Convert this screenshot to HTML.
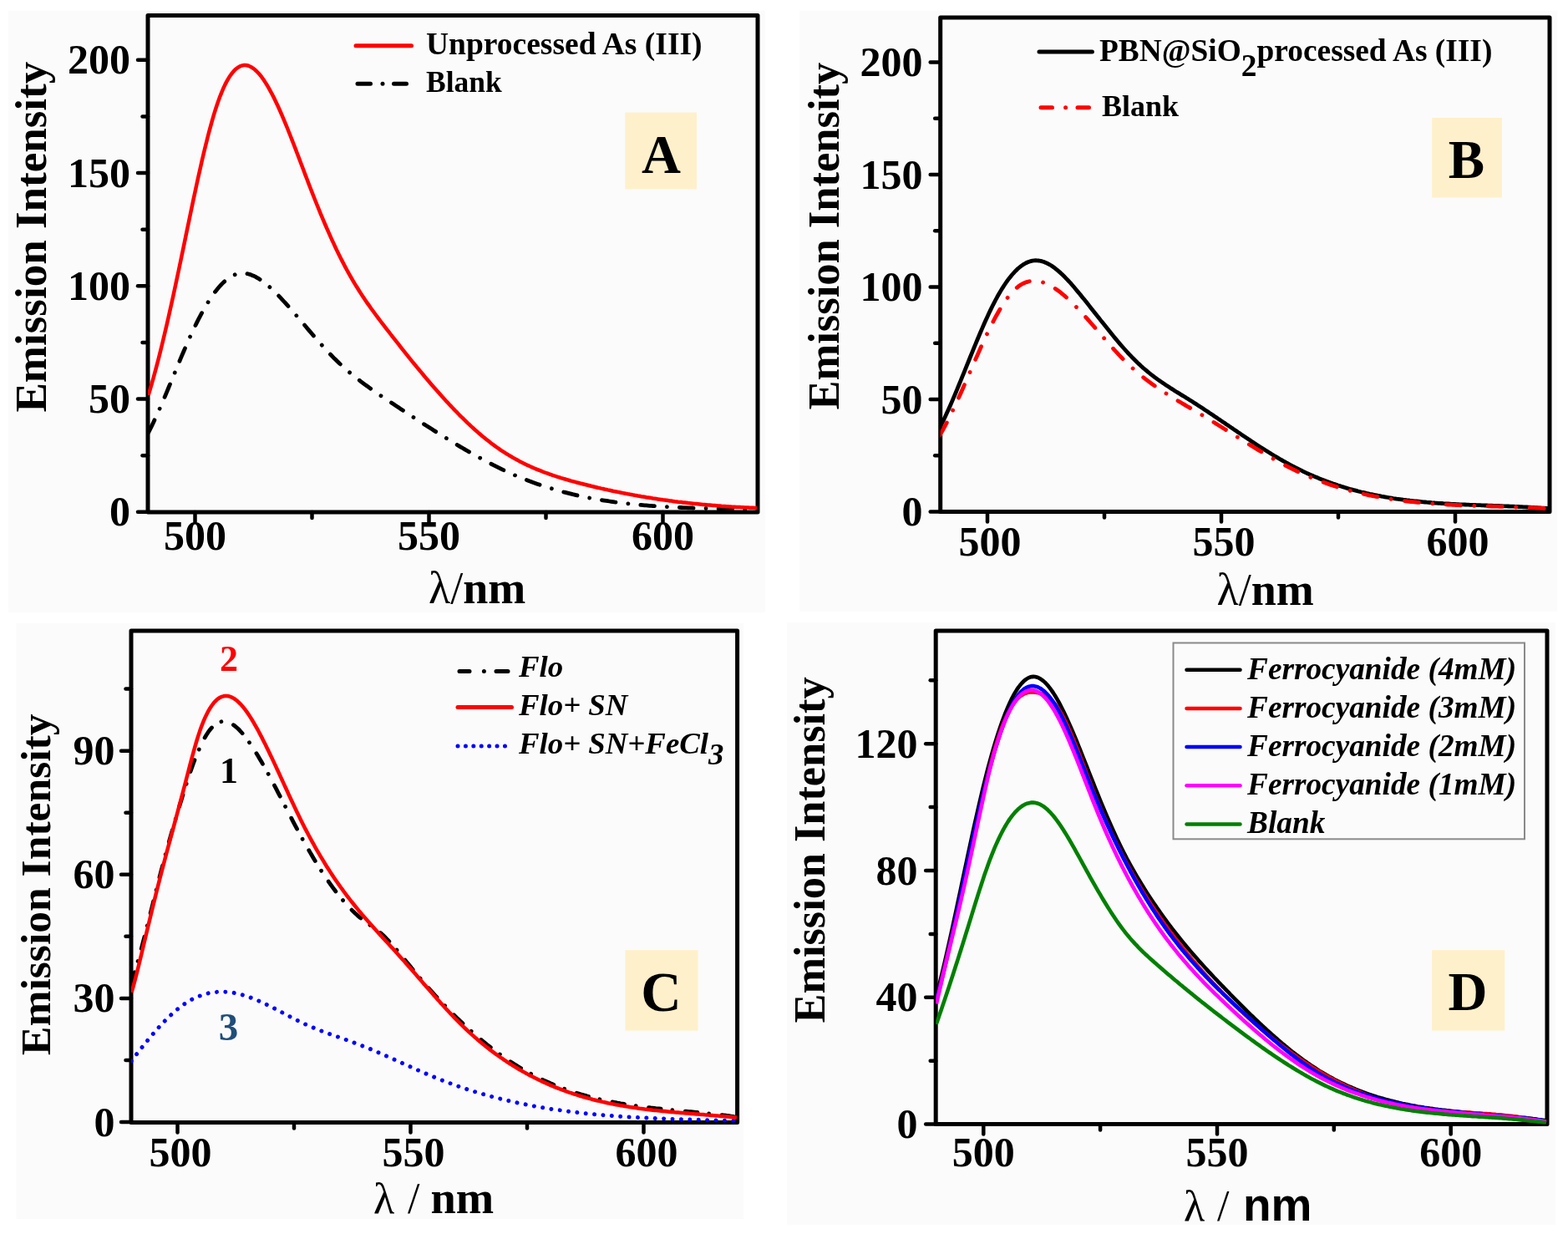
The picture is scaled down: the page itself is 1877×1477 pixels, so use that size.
<!DOCTYPE html>
<html><head><meta charset="utf-8"><title>Emission spectra</title>
<style>html,body{margin:0;padding:0;background:#fff;}svg{display:block;}</style>
</head><body>
<svg width="1877" height="1477" viewBox="0 0 1877 1477">
<rect x="0" y="0" width="1877" height="1477" fill="#fff"/>
<rect x="10.0" y="13.0" width="906.0" height="720.0" fill="#fbfbfb"/>
<rect x="957.0" y="13.0" width="907.0" height="719.0" fill="#fbfbfb"/>
<rect x="19.5" y="746.0" width="870.5" height="713.0" fill="#fbfbfb"/>
<rect x="942.0" y="745.0" width="920.0" height="721.0" fill="#fbfbfb"/>
<clipPath id="ca"><rect x="177.0" y="18.5" width="730.0" height="594.5"/></clipPath>
<clipPath id="cb"><rect x="1125.7" y="21.0" width="729.3" height="591.5"/></clipPath>
<clipPath id="cc"><rect x="157.0" y="755.0" width="725.6" height="588.5"/></clipPath>
<clipPath id="cd"><rect x="1120.2" y="755.0" width="731.8" height="590.6"/></clipPath>
<g stroke="#000" stroke-width="4.5" stroke-linecap="round"><line x1="233.5" y1="613.0" x2="233.5" y2="625.0"/><line x1="373.5" y1="613.0" x2="373.5" y2="620.0"/><line x1="513.5" y1="613.0" x2="513.5" y2="625.0"/><line x1="653.5" y1="613.0" x2="653.5" y2="620.0"/><line x1="793.5" y1="613.0" x2="793.5" y2="625.0"/><line x1="165.0" y1="612.8" x2="177.0" y2="612.8"/><line x1="165.0" y1="477.5" x2="177.0" y2="477.5"/><line x1="165.0" y1="342.3" x2="177.0" y2="342.3"/><line x1="165.0" y1="207.0" x2="177.0" y2="207.0"/><line x1="165.0" y1="71.8" x2="177.0" y2="71.8"/><line x1="170.5" y1="545.2" x2="177.0" y2="545.2"/><line x1="170.5" y1="409.9" x2="177.0" y2="409.9"/><line x1="170.5" y1="274.7" x2="177.0" y2="274.7"/><line x1="170.5" y1="139.4" x2="177.0" y2="139.4"/></g>
<g font-family="'Liberation Serif','Times New Roman',serif" font-weight="bold" font-size="50" fill="#000"><text x="233.5" y="658.3" text-anchor="middle">500</text><text x="513.5" y="658.3" text-anchor="middle">550</text><text x="793.5" y="658.3" text-anchor="middle">600</text><text x="156.0" y="629.3" text-anchor="end">0</text><text x="156.0" y="494.0" text-anchor="end">50</text><text x="156.0" y="358.8" text-anchor="end">100</text><text x="156.0" y="223.5" text-anchor="end">150</text><text x="156.0" y="88.3" text-anchor="end">200</text></g>
<rect x="177.0" y="18.5" width="730.0" height="594.5" fill="none" stroke="#000" stroke-width="5" stroke-linejoin="round"/>
<path d="M177.6 517.8 L179.6 513.9 L181.6 509.9 L183.6 505.7 L185.6 501.4 L187.6 497.1 L189.6 492.6 L191.6 488.1 L193.6 483.5 L195.6 478.8 L197.6 474.1 L199.6 469.3 L201.6 464.5 L203.6 459.7 L205.6 454.9 L207.6 450.0 L209.6 445.2 L211.6 440.3 L213.6 435.5 L215.6 430.7 L217.6 425.9 L219.6 421.2 L221.6 416.6 L223.6 411.9 L225.6 407.4 L227.6 403.0 L229.6 398.6 L231.6 394.3 L233.6 390.2 L235.6 386.1 L237.6 382.1 L239.6 378.3 L241.6 374.6 L243.6 371.0 L245.6 367.5 L247.6 364.1 L249.6 360.9 L251.6 357.8 L253.6 354.8 L255.6 351.9 L257.6 349.2 L259.6 346.7 L261.6 344.3 L263.6 342.0 L265.6 339.9 L267.6 337.9 L269.6 336.1 L271.6 334.4 L273.6 332.9 L275.6 331.6 L277.6 330.4 L279.6 329.4 L281.6 328.6 L283.6 328.0 L285.6 327.5 L287.6 327.2 L289.6 327.1 L291.6 327.1 L293.6 327.3 L295.6 327.6 L297.6 328.0 L299.6 328.6 L301.6 329.4 L303.6 330.2 L305.6 331.2 L307.6 332.3 L309.6 333.4 L311.6 334.7 L313.6 336.1 L315.6 337.6 L317.6 339.2 L319.6 340.8 L321.6 342.5 L323.6 344.3 L325.6 346.2 L327.6 348.1 L329.6 350.1 L331.6 352.1 L333.6 354.1 L335.6 356.2 L337.6 358.3 L339.6 360.5 L341.6 362.7 L343.6 364.9 L345.6 367.1 L347.6 369.4 L349.6 371.6 L351.6 373.9 L353.6 376.3 L355.6 378.6 L357.6 380.9 L359.6 383.3 L361.6 385.6 L363.6 388.0 L365.6 390.3 L367.6 392.7 L369.6 395.1 L371.6 397.4 L373.6 399.7 L375.6 402.1 L377.6 404.4 L379.6 406.7 L381.6 409.0 L383.6 411.2 L385.6 413.5 L387.6 415.7 L389.6 417.9 L391.6 420.1 L393.6 422.2 L395.6 424.3 L397.6 426.3 L399.6 428.4 L401.6 430.3 L403.6 432.3 L405.6 434.2 L407.6 436.1 L409.6 437.9 L411.6 439.7 L413.6 441.5 L415.6 443.3 L417.6 445.0 L419.6 446.7 L421.6 448.3 L423.6 450.0 L425.6 451.6 L427.6 453.2 L429.6 454.7 L431.6 456.3 L433.6 457.8 L435.6 459.3 L437.6 460.8 L439.6 462.2 L441.6 463.7 L443.6 465.1 L445.6 466.5 L447.6 468.0 L449.6 469.3 L451.6 470.7 L453.6 472.1 L455.6 473.5 L457.6 474.8 L459.6 476.1 L461.6 477.5 L463.6 478.8 L465.6 480.1 L467.6 481.5 L469.6 482.8 L471.6 484.1 L473.6 485.4 L475.6 486.8 L477.6 488.1 L479.6 489.4 L481.6 490.7 L483.6 492.0 L485.6 493.3 L487.6 494.6 L489.6 496.0 L491.6 497.3 L493.6 498.6 L495.6 499.9 L497.6 501.2 L499.6 502.5 L501.6 503.8 L503.6 505.1 L505.6 506.4 L507.6 507.7 L509.6 509.0 L511.6 510.2 L513.6 511.5 L515.6 512.8 L517.6 514.1 L519.6 515.4 L521.6 516.6 L523.6 517.9 L525.6 519.2 L527.6 520.4 L529.6 521.7 L531.6 522.9 L533.6 524.1 L535.6 525.4 L537.6 526.6 L539.6 527.8 L541.6 529.1 L543.6 530.3 L545.6 531.5 L547.6 532.7 L549.6 533.9 L551.6 535.1 L553.6 536.2 L555.6 537.4 L557.6 538.6 L559.6 539.7 L561.6 540.9 L563.6 542.0 L565.6 543.2 L567.6 544.3 L569.6 545.4 L571.6 546.5 L573.6 547.6 L575.6 548.7 L577.6 549.8 L579.6 550.9 L581.6 552.0 L583.6 553.0 L585.6 554.1 L587.6 555.1 L589.6 556.1 L591.6 557.1 L593.6 558.1 L595.6 559.1 L597.6 560.1 L599.6 561.1 L601.6 562.1 L603.6 563.0 L605.6 564.0 L607.6 564.9 L609.6 565.8 L611.6 566.7 L613.6 567.6 L615.6 568.5 L617.6 569.3 L619.6 570.2 L621.6 571.0 L623.6 571.9 L625.6 572.7 L627.6 573.5 L629.6 574.3 L631.6 575.0 L633.6 575.8 L635.6 576.5 L637.6 577.3 L639.6 578.0 L641.6 578.7 L643.6 579.4 L645.6 580.1 L647.6 580.8 L649.6 581.5 L651.6 582.1 L653.6 582.8 L655.6 583.4 L657.6 584.0 L659.6 584.6 L661.6 585.2 L663.6 585.8 L665.6 586.4 L667.6 587.0 L669.6 587.6 L671.6 588.1 L673.6 588.6 L675.6 589.2 L677.6 589.7 L679.6 590.2 L681.6 590.7 L683.6 591.2 L685.6 591.7 L687.6 592.1 L689.6 592.6 L691.6 593.1 L693.6 593.5 L695.6 593.9 L697.6 594.4 L699.6 594.8 L701.6 595.2 L703.6 595.6 L705.6 596.0 L707.6 596.3 L709.6 596.7 L711.6 597.1 L713.6 597.4 L715.6 597.8 L717.6 598.1 L719.6 598.5 L721.6 598.8 L723.6 599.1 L725.6 599.4 L727.6 599.7 L729.6 600.0 L731.6 600.3 L733.6 600.6 L735.6 600.9 L737.6 601.1 L739.6 601.4 L741.6 601.7 L743.6 601.9 L745.6 602.2 L747.6 602.4 L749.6 602.6 L751.6 602.8 L753.6 603.1 L755.6 603.3 L757.6 603.5 L759.6 603.7 L761.6 603.9 L763.6 604.1 L765.6 604.3 L767.6 604.4 L769.6 604.6 L771.6 604.8 L773.6 604.9 L775.6 605.1 L777.6 605.3 L779.6 605.4 L781.6 605.6 L783.6 605.7 L785.6 605.8 L787.6 606.0 L789.6 606.1 L791.6 606.2 L793.6 606.3 L795.6 606.5 L797.6 606.6 L799.6 606.7 L801.6 606.8 L803.6 606.9 L805.6 607.0 L807.6 607.1 L809.6 607.2 L811.6 607.3 L813.6 607.4 L815.6 607.5 L817.6 607.6 L819.6 607.6 L821.6 607.7 L823.6 607.8 L825.6 607.9 L827.6 607.9 L829.6 608.0 L831.6 608.1 L833.6 608.2 L835.6 608.2 L837.6 608.3 L839.6 608.4 L841.6 608.4 L843.6 608.5 L845.6 608.5 L847.6 608.6 L849.6 608.7 L851.6 608.7 L853.6 608.8 L855.6 608.8 L857.6 608.9 L859.6 608.9 L861.6 609.0 L863.6 609.1 L865.6 609.1 L867.6 609.2 L869.6 609.2 L871.6 609.3 L873.6 609.3 L875.6 609.4 L877.6 609.5 L879.6 609.5 L881.6 609.6 L883.6 609.6 L885.6 609.7 L887.6 609.8 L889.6 609.8 L891.6 609.9 L893.6 610.0 L895.6 610.0 L897.6 610.1 L899.6 610.2 L901.6 610.3 L903.6 610.3 L905.6 610.4 L906.0 610.4" fill="none" stroke="#000" stroke-width="4.8" stroke-linejoin="round" stroke-linecap="round" stroke-dasharray="16.7 15 0.01 15" clip-path="url(#ca)"/>
<path d="M177.6 472.9 L179.6 466.3 L181.6 459.5 L183.6 452.5 L185.6 445.2 L187.6 437.7 L189.6 430.0 L191.6 422.1 L193.6 414.0 L195.6 405.8 L197.6 397.3 L199.6 388.7 L201.6 380.0 L203.6 371.1 L205.6 362.0 L207.6 352.9 L209.6 343.6 L211.6 334.3 L213.6 324.9 L215.6 315.4 L217.6 305.8 L219.6 296.2 L221.6 286.5 L223.6 276.8 L225.6 267.2 L227.6 257.6 L229.6 248.0 L231.6 238.5 L233.6 229.2 L235.6 219.9 L237.6 210.8 L239.6 201.9 L241.6 193.1 L243.6 184.6 L245.6 176.2 L247.6 168.2 L249.6 160.3 L251.6 152.8 L253.6 145.6 L255.6 138.7 L257.6 132.2 L259.6 126.0 L261.6 120.2 L263.6 114.8 L265.6 109.8 L267.6 105.2 L269.6 100.9 L271.6 97.1 L273.6 93.6 L275.6 90.5 L277.6 87.8 L279.6 85.4 L281.6 83.3 L283.6 81.6 L285.6 80.3 L287.6 79.2 L289.6 78.5 L291.6 78.1 L293.6 78.1 L295.6 78.3 L297.6 78.8 L299.6 79.7 L301.6 80.8 L303.6 82.1 L305.6 83.8 L307.6 85.7 L309.6 87.8 L311.6 90.1 L313.6 92.7 L315.6 95.5 L317.6 98.6 L319.6 101.8 L321.6 105.2 L323.6 108.8 L325.6 112.5 L327.6 116.4 L329.6 120.5 L331.6 124.7 L333.6 129.0 L335.6 133.5 L337.6 138.1 L339.6 142.8 L341.6 147.6 L343.6 152.5 L345.6 157.5 L347.6 162.5 L349.6 167.6 L351.6 172.7 L353.6 177.9 L355.6 183.2 L357.6 188.4 L359.6 193.7 L361.6 199.0 L363.6 204.3 L365.6 209.6 L367.6 214.8 L369.6 220.1 L371.6 225.3 L373.6 230.4 L375.6 235.5 L377.6 240.5 L379.6 245.5 L381.6 250.4 L383.6 255.3 L385.6 260.1 L387.6 264.9 L389.6 269.5 L391.6 274.2 L393.6 278.7 L395.6 283.2 L397.6 287.6 L399.6 291.9 L401.6 296.2 L403.6 300.4 L405.6 304.5 L407.6 308.5 L409.6 312.4 L411.6 316.3 L413.6 320.1 L415.6 323.8 L417.6 327.4 L419.6 330.9 L421.6 334.4 L423.6 337.8 L425.6 341.1 L427.6 344.3 L429.6 347.5 L431.6 350.6 L433.6 353.7 L435.6 356.7 L437.6 359.7 L439.6 362.6 L441.6 365.4 L443.6 368.3 L445.6 371.0 L447.6 373.8 L449.6 376.5 L451.6 379.2 L453.6 381.9 L455.6 384.5 L457.6 387.1 L459.6 389.7 L461.6 392.3 L463.6 394.9 L465.6 397.4 L467.6 400.0 L469.6 402.6 L471.6 405.1 L473.6 407.7 L475.6 410.2 L477.6 412.7 L479.6 415.3 L481.6 417.8 L483.6 420.3 L485.6 422.8 L487.6 425.3 L489.6 427.8 L491.6 430.3 L493.6 432.8 L495.6 435.2 L497.6 437.7 L499.6 440.1 L501.6 442.5 L503.6 444.9 L505.6 447.3 L507.6 449.7 L509.6 452.1 L511.6 454.5 L513.6 456.8 L515.6 459.2 L517.6 461.5 L519.6 463.8 L521.6 466.1 L523.6 468.3 L525.6 470.6 L527.6 472.8 L529.6 475.1 L531.6 477.3 L533.6 479.5 L535.6 481.6 L537.6 483.8 L539.6 485.9 L541.6 488.0 L543.6 490.1 L545.6 492.2 L547.6 494.2 L549.6 496.3 L551.6 498.3 L553.6 500.2 L555.6 502.2 L557.6 504.1 L559.6 506.1 L561.6 507.9 L563.6 509.8 L565.6 511.6 L567.6 513.5 L569.6 515.3 L571.6 517.0 L573.6 518.8 L575.6 520.5 L577.6 522.2 L579.6 523.8 L581.6 525.4 L583.6 527.0 L585.6 528.6 L587.6 530.2 L589.6 531.7 L591.6 533.1 L593.6 534.6 L595.6 536.0 L597.6 537.4 L599.6 538.8 L601.6 540.1 L603.6 541.4 L605.6 542.7 L607.6 543.9 L609.6 545.1 L611.6 546.3 L613.6 547.5 L615.6 548.6 L617.6 549.7 L619.6 550.8 L621.6 551.9 L623.6 552.9 L625.6 553.9 L627.6 554.9 L629.6 555.9 L631.6 556.9 L633.6 557.8 L635.6 558.7 L637.6 559.6 L639.6 560.5 L641.6 561.3 L643.6 562.1 L645.6 562.9 L647.6 563.7 L649.6 564.5 L651.6 565.3 L653.6 566.0 L655.6 566.7 L657.6 567.5 L659.6 568.1 L661.6 568.8 L663.6 569.5 L665.6 570.2 L667.6 570.8 L669.6 571.4 L671.6 572.1 L673.6 572.7 L675.6 573.3 L677.6 573.8 L679.6 574.4 L681.6 575.0 L683.6 575.6 L685.6 576.1 L687.6 576.6 L689.6 577.2 L691.6 577.7 L693.6 578.2 L695.6 578.8 L697.6 579.3 L699.6 579.8 L701.6 580.3 L703.6 580.8 L705.6 581.3 L707.6 581.8 L709.6 582.2 L711.6 582.7 L713.6 583.2 L715.6 583.7 L717.6 584.1 L719.6 584.6 L721.6 585.0 L723.6 585.5 L725.6 585.9 L727.6 586.4 L729.6 586.8 L731.6 587.2 L733.6 587.7 L735.6 588.1 L737.6 588.5 L739.6 588.9 L741.6 589.3 L743.6 589.7 L745.6 590.1 L747.6 590.5 L749.6 590.9 L751.6 591.3 L753.6 591.6 L755.6 592.0 L757.6 592.4 L759.6 592.8 L761.6 593.1 L763.6 593.5 L765.6 593.8 L767.6 594.2 L769.6 594.5 L771.6 594.8 L773.6 595.2 L775.6 595.5 L777.6 595.8 L779.6 596.1 L781.6 596.5 L783.6 596.8 L785.6 597.1 L787.6 597.4 L789.6 597.7 L791.6 598.0 L793.6 598.3 L795.6 598.5 L797.6 598.8 L799.6 599.1 L801.6 599.4 L803.6 599.6 L805.6 599.9 L807.6 600.2 L809.6 600.4 L811.6 600.7 L813.6 600.9 L815.6 601.1 L817.6 601.4 L819.6 601.6 L821.6 601.8 L823.6 602.1 L825.6 602.3 L827.6 602.5 L829.6 602.7 L831.6 602.9 L833.6 603.1 L835.6 603.3 L837.6 603.5 L839.6 603.7 L841.6 603.9 L843.6 604.1 L845.6 604.3 L847.6 604.5 L849.6 604.6 L851.6 604.8 L853.6 605.0 L855.6 605.1 L857.6 605.3 L859.6 605.5 L861.6 605.6 L863.6 605.8 L865.6 605.9 L867.6 606.0 L869.6 606.2 L871.6 606.3 L873.6 606.4 L875.6 606.6 L877.6 606.7 L879.6 606.8 L881.6 606.9 L883.6 607.0 L885.6 607.1 L887.6 607.2 L889.6 607.3 L891.6 607.4 L893.6 607.5 L895.6 607.6 L897.6 607.7 L899.6 607.8 L901.6 607.8 L903.6 607.9 L905.6 608.0 L906.0 608.0" fill="none" stroke="#ff0000" stroke-width="4.5" stroke-linejoin="round" stroke-linecap="butt" clip-path="url(#ca)"/>
<g stroke="#000" stroke-width="4.5" stroke-linecap="round"><line x1="1182.0" y1="612.5" x2="1182.0" y2="624.5"/><line x1="1322.0" y1="612.5" x2="1322.0" y2="619.5"/><line x1="1462.0" y1="612.5" x2="1462.0" y2="624.5"/><line x1="1602.0" y1="612.5" x2="1602.0" y2="619.5"/><line x1="1742.0" y1="612.5" x2="1742.0" y2="624.5"/><line x1="1113.7" y1="612.5" x2="1125.7" y2="612.5"/><line x1="1113.7" y1="478.0" x2="1125.7" y2="478.0"/><line x1="1113.7" y1="343.5" x2="1125.7" y2="343.5"/><line x1="1113.7" y1="209.0" x2="1125.7" y2="209.0"/><line x1="1113.7" y1="74.5" x2="1125.7" y2="74.5"/><line x1="1119.2" y1="545.2" x2="1125.7" y2="545.2"/><line x1="1119.2" y1="410.8" x2="1125.7" y2="410.8"/><line x1="1119.2" y1="276.2" x2="1125.7" y2="276.2"/><line x1="1119.2" y1="141.8" x2="1125.7" y2="141.8"/></g>
<g font-family="'Liberation Serif','Times New Roman',serif" font-weight="bold" font-size="50" fill="#000"><text x="1185.0" y="665.0" text-anchor="middle">500</text><text x="1465.0" y="665.0" text-anchor="middle">550</text><text x="1745.0" y="665.0" text-anchor="middle">600</text><text x="1104.5" y="629.0" text-anchor="end">0</text><text x="1104.5" y="494.5" text-anchor="end">50</text><text x="1104.5" y="360.0" text-anchor="end">100</text><text x="1104.5" y="225.5" text-anchor="end">150</text><text x="1104.5" y="91.0" text-anchor="end">200</text></g>
<rect x="1125.7" y="21.0" width="729.3" height="591.5" fill="none" stroke="#000" stroke-width="5" stroke-linejoin="round"/>
<path d="M1125.8 510.3 L1127.8 506.3 L1129.8 502.2 L1131.8 498.0 L1133.8 493.6 L1135.8 489.2 L1137.8 484.7 L1139.8 480.1 L1141.8 475.4 L1143.8 470.7 L1145.8 465.9 L1147.8 461.0 L1149.8 456.2 L1151.8 451.2 L1153.8 446.3 L1155.8 441.4 L1157.8 436.4 L1159.8 431.5 L1161.8 426.5 L1163.8 421.6 L1165.8 416.7 L1167.8 411.8 L1169.8 407.0 L1171.8 402.3 L1173.8 397.5 L1175.8 392.9 L1177.8 388.3 L1179.8 383.8 L1181.8 379.4 L1183.8 375.1 L1185.8 370.9 L1187.8 366.8 L1189.8 362.9 L1191.8 359.0 L1193.8 355.3 L1195.8 351.8 L1197.8 348.4 L1199.8 345.1 L1201.8 342.0 L1203.8 339.0 L1205.8 336.1 L1207.8 333.4 L1209.8 330.9 L1211.8 328.5 L1213.8 326.3 L1215.8 324.2 L1217.8 322.2 L1219.8 320.5 L1221.8 318.9 L1223.8 317.4 L1225.8 316.1 L1227.8 315.0 L1229.8 314.0 L1231.8 313.2 L1233.8 312.6 L1235.8 312.1 L1237.8 311.9 L1239.8 311.7 L1241.8 311.8 L1243.8 312.0 L1245.8 312.4 L1247.8 312.9 L1249.8 313.6 L1251.8 314.4 L1253.8 315.3 L1255.8 316.4 L1257.8 317.5 L1259.8 318.8 L1261.8 320.2 L1263.8 321.8 L1265.8 323.4 L1267.8 325.1 L1269.8 326.9 L1271.8 328.8 L1273.8 330.7 L1275.8 332.8 L1277.8 334.9 L1279.8 337.0 L1281.8 339.2 L1283.8 341.5 L1285.8 343.8 L1287.8 346.2 L1289.8 348.6 L1291.8 351.0 L1293.8 353.4 L1295.8 355.9 L1297.8 358.3 L1299.8 360.8 L1301.8 363.3 L1303.8 365.9 L1305.8 368.4 L1307.8 370.9 L1309.8 373.4 L1311.8 376.0 L1313.8 378.5 L1315.8 381.0 L1317.8 383.6 L1319.8 386.1 L1321.8 388.6 L1323.8 391.1 L1325.8 393.6 L1327.8 396.1 L1329.8 398.6 L1331.8 401.0 L1333.8 403.5 L1335.8 405.9 L1337.8 408.3 L1339.8 410.6 L1341.8 413.0 L1343.8 415.3 L1345.8 417.5 L1347.8 419.8 L1349.8 422.0 L1351.8 424.1 L1353.8 426.2 L1355.8 428.3 L1357.8 430.3 L1359.8 432.3 L1361.8 434.3 L1363.8 436.1 L1365.8 438.0 L1367.8 439.8 L1369.8 441.5 L1371.8 443.2 L1373.8 444.9 L1375.8 446.5 L1377.8 448.1 L1379.8 449.6 L1381.8 451.2 L1383.8 452.6 L1385.8 454.1 L1387.8 455.5 L1389.8 456.9 L1391.8 458.3 L1393.8 459.6 L1395.8 461.0 L1397.8 462.3 L1399.8 463.6 L1401.8 464.9 L1403.8 466.1 L1405.8 467.4 L1407.8 468.7 L1409.8 469.9 L1411.8 471.1 L1413.8 472.4 L1415.8 473.6 L1417.8 474.8 L1419.8 476.1 L1421.8 477.3 L1423.8 478.6 L1425.8 479.8 L1427.8 481.1 L1429.8 482.4 L1431.8 483.6 L1433.8 484.9 L1435.8 486.2 L1437.8 487.5 L1439.8 488.8 L1441.8 490.2 L1443.8 491.5 L1445.8 492.8 L1447.8 494.2 L1449.8 495.5 L1451.8 496.8 L1453.8 498.2 L1455.8 499.5 L1457.8 500.9 L1459.8 502.2 L1461.8 503.6 L1463.8 505.0 L1465.8 506.3 L1467.8 507.7 L1469.8 509.0 L1471.8 510.4 L1473.8 511.8 L1475.8 513.1 L1477.8 514.5 L1479.8 515.8 L1481.8 517.2 L1483.8 518.5 L1485.8 519.9 L1487.8 521.2 L1489.8 522.6 L1491.8 523.9 L1493.8 525.3 L1495.8 526.6 L1497.8 527.9 L1499.8 529.2 L1501.8 530.6 L1503.8 531.9 L1505.8 533.2 L1507.8 534.5 L1509.8 535.7 L1511.8 537.0 L1513.8 538.3 L1515.8 539.5 L1517.8 540.8 L1519.8 542.0 L1521.8 543.3 L1523.8 544.5 L1525.8 545.7 L1527.8 546.9 L1529.8 548.1 L1531.8 549.3 L1533.8 550.4 L1535.8 551.6 L1537.8 552.7 L1539.8 553.8 L1541.8 554.9 L1543.8 556.0 L1545.8 557.1 L1547.8 558.1 L1549.8 559.2 L1551.8 560.2 L1553.8 561.2 L1555.8 562.2 L1557.8 563.2 L1559.8 564.2 L1561.8 565.1 L1563.8 566.1 L1565.8 567.0 L1567.8 567.9 L1569.8 568.8 L1571.8 569.6 L1573.8 570.5 L1575.8 571.3 L1577.8 572.1 L1579.8 573.0 L1581.8 573.8 L1583.8 574.5 L1585.8 575.3 L1587.8 576.1 L1589.8 576.8 L1591.8 577.5 L1593.8 578.2 L1595.8 579.0 L1597.8 579.6 L1599.8 580.3 L1601.8 581.0 L1603.8 581.6 L1605.8 582.3 L1607.8 582.9 L1609.8 583.5 L1611.8 584.1 L1613.8 584.7 L1615.8 585.3 L1617.8 585.8 L1619.8 586.4 L1621.8 586.9 L1623.8 587.4 L1625.8 588.0 L1627.8 588.5 L1629.8 589.0 L1631.8 589.4 L1633.8 589.9 L1635.8 590.4 L1637.8 590.8 L1639.8 591.3 L1641.8 591.7 L1643.8 592.1 L1645.8 592.5 L1647.8 592.9 L1649.8 593.3 L1651.8 593.7 L1653.8 594.1 L1655.8 594.4 L1657.8 594.8 L1659.8 595.2 L1661.8 595.5 L1663.8 595.8 L1665.8 596.1 L1667.8 596.5 L1669.8 596.8 L1671.8 597.1 L1673.8 597.3 L1675.8 597.6 L1677.8 597.9 L1679.8 598.2 L1681.8 598.4 L1683.8 598.7 L1685.8 598.9 L1687.8 599.2 L1689.8 599.4 L1691.8 599.6 L1693.8 599.8 L1695.8 600.0 L1697.8 600.2 L1699.8 600.4 L1701.8 600.6 L1703.8 600.8 L1705.8 601.0 L1707.8 601.2 L1709.8 601.3 L1711.8 601.5 L1713.8 601.7 L1715.8 601.8 L1717.8 602.0 L1719.8 602.1 L1721.8 602.3 L1723.8 602.4 L1725.8 602.5 L1727.8 602.7 L1729.8 602.8 L1731.8 602.9 L1733.8 603.0 L1735.8 603.1 L1737.8 603.3 L1739.8 603.4 L1741.8 603.5 L1743.8 603.6 L1745.8 603.7 L1747.8 603.8 L1749.8 603.8 L1751.8 603.9 L1753.8 604.0 L1755.8 604.1 L1757.8 604.2 L1759.8 604.3 L1761.8 604.4 L1763.8 604.4 L1765.8 604.5 L1767.8 604.6 L1769.8 604.7 L1771.8 604.7 L1773.8 604.8 L1775.8 604.9 L1777.8 605.0 L1779.8 605.0 L1781.8 605.1 L1783.8 605.2 L1785.8 605.2 L1787.8 605.3 L1789.8 605.4 L1791.8 605.5 L1793.8 605.5 L1795.8 605.6 L1797.8 605.7 L1799.8 605.8 L1801.8 605.8 L1803.8 605.9 L1805.8 606.0 L1807.8 606.1 L1809.8 606.2 L1811.8 606.2 L1813.8 606.3 L1815.8 606.4 L1817.8 606.5 L1819.8 606.6 L1821.8 606.7 L1823.8 606.8 L1825.8 606.9 L1827.8 607.0 L1829.8 607.1 L1831.8 607.2 L1833.8 607.3 L1835.8 607.4 L1837.8 607.6 L1839.8 607.7 L1841.8 607.8 L1843.8 607.9 L1845.8 608.1 L1847.8 608.2 L1849.8 608.4 L1851.8 608.5 L1853.8 608.7 L1854.0 608.7" fill="none" stroke="#000" stroke-width="4.8" stroke-linejoin="round" stroke-linecap="butt" clip-path="url(#cb)"/>
<path d="M1125.1 520.8 L1127.1 517.4 L1129.1 513.8 L1131.1 510.1 L1133.1 506.3 L1135.1 502.4 L1137.1 498.4 L1139.1 494.3 L1141.1 490.1 L1143.1 485.9 L1145.1 481.5 L1147.1 477.2 L1149.1 472.7 L1151.1 468.2 L1153.1 463.7 L1155.1 459.2 L1157.1 454.6 L1159.1 450.0 L1161.1 445.4 L1163.1 440.8 L1165.1 436.2 L1167.1 431.6 L1169.1 427.1 L1171.1 422.6 L1173.1 418.1 L1175.1 413.6 L1177.1 409.3 L1179.1 404.9 L1181.1 400.7 L1183.1 396.5 L1185.1 392.4 L1187.1 388.4 L1189.1 384.5 L1191.1 380.7 L1193.1 377.0 L1195.1 373.5 L1197.1 370.0 L1199.1 366.7 L1201.1 363.6 L1203.1 360.6 L1205.1 357.7 L1207.1 355.1 L1209.1 352.6 L1211.1 350.2 L1213.1 348.1 L1215.1 346.2 L1217.1 344.4 L1219.1 342.8 L1221.1 341.4 L1223.1 340.2 L1225.1 339.2 L1227.1 338.3 L1229.1 337.6 L1231.1 337.0 L1233.1 336.6 L1235.1 336.3 L1237.1 336.2 L1239.1 336.2 L1241.1 336.4 L1243.1 336.6 L1245.1 337.0 L1247.1 337.5 L1249.1 338.2 L1251.1 338.9 L1253.1 339.7 L1255.1 340.7 L1257.1 341.7 L1259.1 342.9 L1261.1 344.1 L1263.1 345.4 L1265.1 346.8 L1267.1 348.2 L1269.1 349.7 L1271.1 351.3 L1273.1 353.0 L1275.1 354.7 L1277.1 356.5 L1279.1 358.3 L1281.1 360.2 L1283.1 362.1 L1285.1 364.1 L1287.1 366.1 L1289.1 368.1 L1291.1 370.2 L1293.1 372.3 L1295.1 374.5 L1297.1 376.7 L1299.1 378.9 L1301.1 381.1 L1303.1 383.4 L1305.1 385.7 L1307.1 388.0 L1309.1 390.3 L1311.1 392.6 L1313.1 394.9 L1315.1 397.2 L1317.1 399.5 L1319.1 401.9 L1321.1 404.2 L1323.1 406.5 L1325.1 408.8 L1327.1 411.1 L1329.1 413.3 L1331.1 415.6 L1333.1 417.8 L1335.1 420.0 L1337.1 422.2 L1339.1 424.3 L1341.1 426.5 L1343.1 428.5 L1345.1 430.6 L1347.1 432.6 L1349.1 434.5 L1351.1 436.4 L1353.1 438.3 L1355.1 440.1 L1357.1 441.9 L1359.1 443.7 L1361.1 445.4 L1363.1 447.1 L1365.1 448.8 L1367.1 450.4 L1369.1 452.0 L1371.1 453.6 L1373.1 455.1 L1375.1 456.6 L1377.1 458.1 L1379.1 459.6 L1381.1 461.0 L1383.1 462.4 L1385.1 463.8 L1387.1 465.2 L1389.1 466.5 L1391.1 467.9 L1393.1 469.2 L1395.1 470.5 L1397.1 471.7 L1399.1 473.0 L1401.1 474.3 L1403.1 475.5 L1405.1 476.7 L1407.1 477.9 L1409.1 479.2 L1411.1 480.4 L1413.1 481.5 L1415.1 482.7 L1417.1 483.9 L1419.1 485.1 L1421.1 486.3 L1423.1 487.4 L1425.1 488.6 L1427.1 489.8 L1429.1 491.0 L1431.1 492.1 L1433.1 493.3 L1435.1 494.5 L1437.1 495.7 L1439.1 496.9 L1441.1 498.1 L1443.1 499.3 L1445.1 500.5 L1447.1 501.8 L1449.1 503.0 L1451.1 504.2 L1453.1 505.5 L1455.1 506.7 L1457.1 508.0 L1459.1 509.2 L1461.1 510.5 L1463.1 511.7 L1465.1 513.0 L1467.1 514.2 L1469.1 515.5 L1471.1 516.7 L1473.1 518.0 L1475.1 519.3 L1477.1 520.5 L1479.1 521.8 L1481.1 523.1 L1483.1 524.3 L1485.1 525.6 L1487.1 526.8 L1489.1 528.1 L1491.1 529.3 L1493.1 530.6 L1495.1 531.8 L1497.1 533.0 L1499.1 534.3 L1501.1 535.5 L1503.1 536.7 L1505.1 537.9 L1507.1 539.1 L1509.1 540.3 L1511.1 541.5 L1513.1 542.7 L1515.1 543.9 L1517.1 545.1 L1519.1 546.2 L1521.1 547.4 L1523.1 548.5 L1525.1 549.7 L1527.1 550.8 L1529.1 551.9 L1531.1 553.0 L1533.1 554.1 L1535.1 555.2 L1537.1 556.3 L1539.1 557.3 L1541.1 558.3 L1543.1 559.4 L1545.1 560.4 L1547.1 561.4 L1549.1 562.4 L1551.1 563.3 L1553.1 564.3 L1555.1 565.2 L1557.1 566.2 L1559.1 567.1 L1561.1 568.0 L1563.1 568.8 L1565.1 569.7 L1567.1 570.6 L1569.1 571.4 L1571.1 572.2 L1573.1 573.0 L1575.1 573.8 L1577.1 574.6 L1579.1 575.4 L1581.1 576.1 L1583.1 576.9 L1585.1 577.6 L1587.1 578.3 L1589.1 579.0 L1591.1 579.7 L1593.1 580.4 L1595.1 581.0 L1597.1 581.7 L1599.1 582.3 L1601.1 583.0 L1603.1 583.6 L1605.1 584.2 L1607.1 584.8 L1609.1 585.4 L1611.1 585.9 L1613.1 586.5 L1615.1 587.0 L1617.1 587.6 L1619.1 588.1 L1621.1 588.6 L1623.1 589.1 L1625.1 589.6 L1627.1 590.1 L1629.1 590.6 L1631.1 591.0 L1633.1 591.5 L1635.1 591.9 L1637.1 592.3 L1639.1 592.8 L1641.1 593.2 L1643.1 593.6 L1645.1 594.0 L1647.1 594.3 L1649.1 594.7 L1651.1 595.1 L1653.1 595.4 L1655.1 595.8 L1657.1 596.1 L1659.1 596.5 L1661.1 596.8 L1663.1 597.1 L1665.1 597.4 L1667.1 597.7 L1669.1 598.0 L1671.1 598.3 L1673.1 598.6 L1675.1 598.8 L1677.1 599.1 L1679.1 599.3 L1681.1 599.6 L1683.1 599.8 L1685.1 600.1 L1687.1 600.3 L1689.1 600.5 L1691.1 600.7 L1693.1 600.9 L1695.1 601.1 L1697.1 601.3 L1699.1 601.5 L1701.1 601.7 L1703.1 601.9 L1705.1 602.1 L1707.1 602.2 L1709.1 602.4 L1711.1 602.6 L1713.1 602.7 L1715.1 602.9 L1717.1 603.0 L1719.1 603.1 L1721.1 603.3 L1723.1 603.4 L1725.1 603.5 L1727.1 603.6 L1729.1 603.8 L1731.1 603.9 L1733.1 604.0 L1735.1 604.1 L1737.1 604.2 L1739.1 604.3 L1741.1 604.4 L1743.1 604.5 L1745.1 604.6 L1747.1 604.7 L1749.1 604.8 L1751.1 604.8 L1753.1 604.9 L1755.1 605.0 L1757.1 605.1 L1759.1 605.2 L1761.1 605.2 L1763.1 605.3 L1765.1 605.4 L1767.1 605.4 L1769.1 605.5 L1771.1 605.6 L1773.1 605.6 L1775.1 605.7 L1777.1 605.8 L1779.1 605.8 L1781.1 605.9 L1783.1 605.9 L1785.1 606.0 L1787.1 606.1 L1789.1 606.1 L1791.1 606.2 L1793.1 606.2 L1795.1 606.3 L1797.1 606.4 L1799.1 606.4 L1801.1 606.5 L1803.1 606.6 L1805.1 606.6 L1807.1 606.7 L1809.1 606.8 L1811.1 606.8 L1813.1 606.9 L1815.1 607.0 L1817.1 607.0 L1819.1 607.1 L1821.1 607.2 L1823.1 607.3 L1825.1 607.4 L1827.1 607.4 L1829.1 607.5 L1831.1 607.6 L1833.1 607.7 L1835.1 607.8 L1837.1 607.9 L1839.1 608.0 L1841.1 608.1 L1843.1 608.2 L1845.1 608.3 L1847.1 608.4 L1849.1 608.6 L1851.1 608.7 L1853.1 608.8 L1854.0 608.9" fill="none" stroke="#ff0000" stroke-width="4.8" stroke-linejoin="round" stroke-linecap="round" stroke-dasharray="17 16.5 0.01 16.5" clip-path="url(#cb)"/>
<g stroke="#000" stroke-width="4.5" stroke-linecap="round"><line x1="212.5" y1="1343.5" x2="212.5" y2="1355.5"/><line x1="352.0" y1="1343.5" x2="352.0" y2="1350.5"/><line x1="491.5" y1="1343.5" x2="491.5" y2="1355.5"/><line x1="631.0" y1="1343.5" x2="631.0" y2="1350.5"/><line x1="770.5" y1="1343.5" x2="770.5" y2="1355.5"/><line x1="145.0" y1="1343.0" x2="157.0" y2="1343.0"/><line x1="145.0" y1="1194.9" x2="157.0" y2="1194.9"/><line x1="145.0" y1="1046.8" x2="157.0" y2="1046.8"/><line x1="145.0" y1="898.7" x2="157.0" y2="898.7"/><line x1="150.5" y1="1268.9" x2="157.0" y2="1268.9"/><line x1="150.5" y1="1120.8" x2="157.0" y2="1120.8"/><line x1="150.5" y1="972.7" x2="157.0" y2="972.7"/><line x1="150.5" y1="824.6" x2="157.0" y2="824.6"/></g>
<g font-family="'Liberation Serif','Times New Roman',serif" font-weight="bold" font-size="50" fill="#000"><text x="216.0" y="1395.5" text-anchor="middle">500</text><text x="495.0" y="1395.5" text-anchor="middle">550</text><text x="774.0" y="1395.5" text-anchor="middle">600</text><text x="137.5" y="1359.5" text-anchor="end">0</text><text x="137.5" y="1211.4" text-anchor="end">30</text><text x="137.5" y="1063.3" text-anchor="end">60</text><text x="137.5" y="915.2" text-anchor="end">90</text></g>
<rect x="157.0" y="755.0" width="725.6" height="588.5" fill="none" stroke="#000" stroke-width="5" stroke-linejoin="round"/>
<path d="M157.2 1269.9 L159.2 1267.3 L161.2 1264.7 L163.2 1262.2 L165.2 1259.6 L167.2 1257.1 L169.2 1254.6 L171.2 1252.1 L173.2 1249.6 L175.2 1247.2 L177.2 1244.7 L179.2 1242.3 L181.2 1239.9 L183.2 1237.6 L185.2 1235.3 L187.2 1233.0 L189.2 1230.7 L191.2 1228.5 L193.2 1226.3 L195.2 1224.2 L197.2 1222.1 L199.2 1220.1 L201.2 1218.1 L203.2 1216.2 L205.2 1214.3 L207.2 1212.5 L209.2 1210.7 L211.2 1209.0 L213.2 1207.3 L215.2 1205.7 L217.2 1204.2 L219.2 1202.8 L221.2 1201.4 L223.2 1200.1 L225.2 1198.8 L227.2 1197.7 L229.2 1196.5 L231.2 1195.5 L233.2 1194.5 L235.2 1193.6 L237.2 1192.8 L239.2 1192.0 L241.2 1191.2 L243.2 1190.6 L245.2 1190.0 L247.2 1189.4 L249.2 1188.9 L251.2 1188.5 L253.2 1188.2 L255.2 1187.8 L257.2 1187.6 L259.2 1187.4 L261.2 1187.2 L263.2 1187.1 L265.2 1187.1 L267.2 1187.1 L269.2 1187.2 L271.2 1187.3 L273.2 1187.5 L275.2 1187.7 L277.2 1187.9 L279.2 1188.2 L281.2 1188.6 L283.2 1189.0 L285.2 1189.5 L287.2 1189.9 L289.2 1190.5 L291.2 1191.1 L293.2 1191.7 L295.2 1192.3 L297.2 1193.0 L299.2 1193.7 L301.2 1194.5 L303.2 1195.2 L305.2 1196.1 L307.2 1196.9 L309.2 1197.8 L311.2 1198.6 L313.2 1199.5 L315.2 1200.5 L317.2 1201.4 L319.2 1202.4 L321.2 1203.4 L323.2 1204.4 L325.2 1205.4 L327.2 1206.4 L329.2 1207.4 L331.2 1208.5 L333.2 1209.5 L335.2 1210.6 L337.2 1211.6 L339.2 1212.7 L341.2 1213.7 L343.2 1214.8 L345.2 1215.8 L347.2 1216.9 L349.2 1217.9 L351.2 1218.9 L353.2 1219.9 L355.2 1221.0 L357.2 1222.0 L359.2 1222.9 L361.2 1223.9 L363.2 1224.8 L365.2 1225.8 L367.2 1226.7 L369.2 1227.6 L371.2 1228.4 L373.2 1229.3 L375.2 1230.1 L377.2 1230.9 L379.2 1231.7 L381.2 1232.5 L383.2 1233.3 L385.2 1234.1 L387.2 1234.8 L389.2 1235.6 L391.2 1236.3 L393.2 1237.1 L395.2 1237.8 L397.2 1238.5 L399.2 1239.2 L401.2 1239.9 L403.2 1240.6 L405.2 1241.3 L407.2 1242.0 L409.2 1242.7 L411.2 1243.4 L413.2 1244.1 L415.2 1244.9 L417.2 1245.6 L419.2 1246.3 L421.2 1247.0 L423.2 1247.8 L425.2 1248.5 L427.2 1249.3 L429.2 1250.0 L431.2 1250.8 L433.2 1251.6 L435.2 1252.4 L437.2 1253.2 L439.2 1254.0 L441.2 1254.8 L443.2 1255.6 L445.2 1256.4 L447.2 1257.3 L449.2 1258.1 L451.2 1259.0 L453.2 1259.9 L455.2 1260.7 L457.2 1261.6 L459.2 1262.5 L461.2 1263.3 L463.2 1264.2 L465.2 1265.1 L467.2 1266.0 L469.2 1266.9 L471.2 1267.8 L473.2 1268.7 L475.2 1269.6 L477.2 1270.5 L479.2 1271.4 L481.2 1272.3 L483.2 1273.2 L485.2 1274.1 L487.2 1275.0 L489.2 1275.9 L491.2 1276.8 L493.2 1277.7 L495.2 1278.6 L497.2 1279.5 L499.2 1280.4 L501.2 1281.3 L503.2 1282.1 L505.2 1283.0 L507.2 1283.9 L509.2 1284.8 L511.2 1285.6 L513.2 1286.5 L515.2 1287.3 L517.2 1288.2 L519.2 1289.0 L521.2 1289.8 L523.2 1290.6 L525.2 1291.4 L527.2 1292.2 L529.2 1293.0 L531.2 1293.8 L533.2 1294.6 L535.2 1295.3 L537.2 1296.1 L539.2 1296.8 L541.2 1297.6 L543.2 1298.3 L545.2 1299.0 L547.2 1299.7 L549.2 1300.4 L551.2 1301.1 L553.2 1301.8 L555.2 1302.5 L557.2 1303.1 L559.2 1303.8 L561.2 1304.4 L563.2 1305.1 L565.2 1305.7 L567.2 1306.3 L569.2 1307.0 L571.2 1307.6 L573.2 1308.2 L575.2 1308.7 L577.2 1309.3 L579.2 1309.9 L581.2 1310.5 L583.2 1311.0 L585.2 1311.6 L587.2 1312.1 L589.2 1312.7 L591.2 1313.2 L593.2 1313.7 L595.2 1314.2 L597.2 1314.7 L599.2 1315.2 L601.2 1315.7 L603.2 1316.2 L605.2 1316.7 L607.2 1317.2 L609.2 1317.6 L611.2 1318.1 L613.2 1318.6 L615.2 1319.0 L617.2 1319.4 L619.2 1319.9 L621.2 1320.3 L623.2 1320.7 L625.2 1321.1 L627.2 1321.5 L629.2 1321.9 L631.2 1322.3 L633.2 1322.7 L635.2 1323.1 L637.2 1323.5 L639.2 1323.9 L641.2 1324.2 L643.2 1324.6 L645.2 1324.9 L647.2 1325.3 L649.2 1325.6 L651.2 1326.0 L653.2 1326.3 L655.2 1326.6 L657.2 1326.9 L659.2 1327.3 L661.2 1327.6 L663.2 1327.9 L665.2 1328.2 L667.2 1328.5 L669.2 1328.7 L671.2 1329.0 L673.2 1329.3 L675.2 1329.6 L677.2 1329.8 L679.2 1330.1 L681.2 1330.4 L683.2 1330.6 L685.2 1330.9 L687.2 1331.1 L689.2 1331.4 L691.2 1331.6 L693.2 1331.8 L695.2 1332.0 L697.2 1332.3 L699.2 1332.5 L701.2 1332.7 L703.2 1332.9 L705.2 1333.1 L707.2 1333.3 L709.2 1333.5 L711.2 1333.7 L713.2 1333.9 L715.2 1334.1 L717.2 1334.3 L719.2 1334.4 L721.2 1334.6 L723.2 1334.8 L725.2 1335.0 L727.2 1335.1 L729.2 1335.3 L731.2 1335.4 L733.2 1335.6 L735.2 1335.7 L737.2 1335.9 L739.2 1336.0 L741.2 1336.2 L743.2 1336.3 L745.2 1336.4 L747.2 1336.6 L749.2 1336.7 L751.2 1336.8 L753.2 1337.0 L755.2 1337.1 L757.2 1337.2 L759.2 1337.3 L761.2 1337.4 L763.2 1337.5 L765.2 1337.6 L767.2 1337.8 L769.2 1337.9 L771.2 1338.0 L773.2 1338.1 L775.2 1338.1 L777.2 1338.2 L779.2 1338.3 L781.2 1338.4 L783.2 1338.5 L785.2 1338.6 L787.2 1338.7 L789.2 1338.8 L791.2 1338.9 L793.2 1338.9 L795.2 1339.0 L797.2 1339.1 L799.2 1339.2 L801.2 1339.2 L803.2 1339.3 L805.2 1339.4 L807.2 1339.4 L809.2 1339.5 L811.2 1339.6 L813.2 1339.7 L815.2 1339.7 L817.2 1339.8 L819.2 1339.8 L821.2 1339.9 L823.2 1340.0 L825.2 1340.0 L827.2 1340.1 L829.2 1340.2 L831.2 1340.2 L833.2 1340.3 L835.2 1340.3 L837.2 1340.4 L839.2 1340.4 L841.2 1340.5 L843.2 1340.6 L845.2 1340.6 L847.2 1340.7 L849.2 1340.7 L851.2 1340.8 L853.2 1340.8 L855.2 1340.9 L857.2 1341.0 L859.2 1341.0 L861.2 1341.1 L863.2 1341.1 L865.2 1341.2 L867.2 1341.2 L869.2 1341.3 L871.2 1341.4 L873.2 1341.4 L875.2 1341.5 L877.2 1341.5 L879.2 1341.6 L881.2 1341.7 L882.0 1341.7" fill="none" stroke="#0000ff" stroke-width="5.0" stroke-linejoin="round" stroke-linecap="round" stroke-dasharray="0.01 10.4" clip-path="url(#cc)"/>
<path d="M157.0 1177.8 L159.0 1171.4 L161.0 1164.8 L163.0 1158.0 L165.0 1150.9 L167.0 1143.7 L169.0 1136.3 L171.0 1128.7 L173.0 1121.0 L175.0 1113.2 L177.0 1105.4 L179.0 1097.4 L181.0 1089.5 L183.0 1081.5 L185.0 1073.5 L187.0 1065.6 L189.0 1057.7 L191.0 1049.9 L193.0 1042.2 L195.0 1034.6 L197.0 1027.1 L199.0 1019.7 L201.0 1012.4 L203.0 1005.2 L205.0 998.1 L207.0 991.2 L209.0 984.3 L211.0 977.5 L213.0 970.8 L215.0 964.2 L217.0 957.7 L219.0 951.2 L221.0 944.8 L223.0 938.5 L225.0 932.3 L227.0 926.4 L229.0 920.6 L231.0 915.0 L233.0 909.6 L235.0 904.6 L237.0 899.7 L239.0 895.2 L241.0 890.9 L243.0 886.9 L245.0 883.2 L247.0 879.8 L249.0 876.7 L251.0 873.9 L253.0 871.5 L255.0 869.4 L257.0 867.6 L259.0 866.2 L261.0 865.0 L263.0 864.2 L265.0 863.7 L267.0 863.5 L269.0 863.5 L271.0 863.8 L273.0 864.3 L275.0 865.1 L277.0 866.1 L279.0 867.4 L281.0 868.8 L283.0 870.5 L285.0 872.3 L287.0 874.3 L289.0 876.5 L291.0 878.8 L293.0 881.3 L295.0 883.9 L297.0 886.6 L299.0 889.5 L301.0 892.4 L303.0 895.5 L305.0 898.6 L307.0 901.8 L309.0 905.1 L311.0 908.4 L313.0 911.8 L315.0 915.3 L317.0 918.9 L319.0 922.5 L321.0 926.1 L323.0 929.8 L325.0 933.5 L327.0 937.3 L329.0 941.1 L331.0 944.9 L333.0 948.8 L335.0 952.6 L337.0 956.5 L339.0 960.4 L341.0 964.3 L343.0 968.2 L345.0 972.0 L347.0 975.9 L349.0 979.7 L351.0 983.6 L353.0 987.4 L355.0 991.2 L357.0 994.9 L359.0 998.6 L361.0 1002.3 L363.0 1005.9 L365.0 1009.5 L367.0 1013.0 L369.0 1016.5 L371.0 1019.9 L373.0 1023.3 L375.0 1026.7 L377.0 1030.0 L379.0 1033.3 L381.0 1036.5 L383.0 1039.7 L385.0 1042.8 L387.0 1045.8 L389.0 1048.8 L391.0 1051.8 L393.0 1054.7 L395.0 1057.6 L397.0 1060.4 L399.0 1063.1 L401.0 1065.8 L403.0 1068.4 L405.0 1070.9 L407.0 1073.4 L409.0 1075.9 L411.0 1078.2 L413.0 1080.6 L415.0 1082.8 L417.0 1085.0 L419.0 1087.1 L421.0 1089.1 L423.0 1091.1 L425.0 1093.0 L427.0 1094.8 L429.0 1096.6 L431.0 1098.3 L433.0 1099.9 L435.0 1101.5 L437.0 1103.0 L439.0 1104.4 L441.0 1105.8 L443.0 1107.2 L445.0 1108.5 L447.0 1109.9 L449.0 1111.4 L451.0 1112.9 L453.0 1114.5 L455.0 1116.1 L457.0 1117.9 L459.0 1119.8 L461.0 1121.7 L463.0 1123.8 L465.0 1125.9 L467.0 1128.1 L469.0 1130.3 L471.0 1132.6 L473.0 1134.9 L475.0 1137.2 L477.0 1139.6 L479.0 1142.0 L481.0 1144.4 L483.0 1146.9 L485.0 1149.3 L487.0 1151.7 L489.0 1154.1 L491.0 1156.6 L493.0 1159.0 L495.0 1161.4 L497.0 1163.8 L499.0 1166.2 L501.0 1168.6 L503.0 1171.0 L505.0 1173.3 L507.0 1175.7 L509.0 1178.0 L511.0 1180.3 L513.0 1182.6 L515.0 1184.8 L517.0 1187.1 L519.0 1189.3 L521.0 1191.5 L523.0 1193.7 L525.0 1195.8 L527.0 1198.0 L529.0 1200.1 L531.0 1202.2 L533.0 1204.3 L535.0 1206.4 L537.0 1208.4 L539.0 1210.5 L541.0 1212.5 L543.0 1214.5 L545.0 1216.4 L547.0 1218.4 L549.0 1220.3 L551.0 1222.2 L553.0 1224.1 L555.0 1226.0 L557.0 1227.9 L559.0 1229.7 L561.0 1231.5 L563.0 1233.3 L565.0 1235.1 L567.0 1236.9 L569.0 1238.6 L571.0 1240.3 L573.0 1242.0 L575.0 1243.7 L577.0 1245.4 L579.0 1247.0 L581.0 1248.7 L583.0 1250.3 L585.0 1251.8 L587.0 1253.4 L589.0 1255.0 L591.0 1256.5 L593.0 1258.0 L595.0 1259.5 L597.0 1260.9 L599.0 1262.4 L601.0 1263.8 L603.0 1265.2 L605.0 1266.6 L607.0 1268.0 L609.0 1269.3 L611.0 1270.7 L613.0 1272.0 L615.0 1273.3 L617.0 1274.5 L619.0 1275.8 L621.0 1277.0 L623.0 1278.2 L625.0 1279.4 L627.0 1280.6 L629.0 1281.7 L631.0 1282.8 L633.0 1284.0 L635.0 1285.0 L637.0 1286.1 L639.0 1287.2 L641.0 1288.2 L643.0 1289.2 L645.0 1290.2 L647.0 1291.2 L649.0 1292.1 L651.0 1293.1 L653.0 1294.0 L655.0 1294.9 L657.0 1295.8 L659.0 1296.7 L661.0 1297.5 L663.0 1298.4 L665.0 1299.2 L667.0 1300.0 L669.0 1300.8 L671.0 1301.6 L673.0 1302.3 L675.0 1303.1 L677.0 1303.8 L679.0 1304.5 L681.0 1305.2 L683.0 1305.9 L685.0 1306.6 L687.0 1307.2 L689.0 1307.9 L691.0 1308.5 L693.0 1309.1 L695.0 1309.7 L697.0 1310.3 L699.0 1310.9 L701.0 1311.4 L703.0 1312.0 L705.0 1312.5 L707.0 1313.1 L709.0 1313.6 L711.0 1314.1 L713.0 1314.6 L715.0 1315.1 L717.0 1315.5 L719.0 1316.0 L721.0 1316.5 L723.0 1316.9 L725.0 1317.3 L727.0 1317.7 L729.0 1318.2 L731.0 1318.6 L733.0 1318.9 L735.0 1319.3 L737.0 1319.7 L739.0 1320.1 L741.0 1320.4 L743.0 1320.8 L745.0 1321.1 L747.0 1321.4 L749.0 1321.8 L751.0 1322.1 L753.0 1322.4 L755.0 1322.7 L757.0 1323.0 L759.0 1323.3 L761.0 1323.6 L763.0 1323.9 L765.0 1324.1 L767.0 1324.4 L769.0 1324.7 L771.0 1324.9 L773.0 1325.2 L775.0 1325.4 L777.0 1325.6 L779.0 1325.9 L781.0 1326.1 L783.0 1326.3 L785.0 1326.6 L787.0 1326.8 L789.0 1327.0 L791.0 1327.2 L793.0 1327.4 L795.0 1327.6 L797.0 1327.8 L799.0 1328.0 L801.0 1328.2 L803.0 1328.4 L805.0 1328.6 L807.0 1328.8 L809.0 1329.0 L811.0 1329.2 L813.0 1329.4 L815.0 1329.6 L817.0 1329.8 L819.0 1330.0 L821.0 1330.2 L823.0 1330.4 L825.0 1330.6 L827.0 1330.7 L829.0 1330.9 L831.0 1331.1 L833.0 1331.3 L835.0 1331.5 L837.0 1331.7 L839.0 1331.9 L841.0 1332.1 L843.0 1332.3 L845.0 1332.5 L847.0 1332.7 L849.0 1332.9 L851.0 1333.1 L853.0 1333.4 L855.0 1333.6 L857.0 1333.8 L859.0 1334.0 L861.0 1334.3 L863.0 1334.5 L865.0 1334.7 L867.0 1335.0 L869.0 1335.2 L871.0 1335.5 L873.0 1335.7 L875.0 1336.0 L877.0 1336.3 L879.0 1336.6 L881.0 1336.8 L882.0 1337.0" fill="none" stroke="#000" stroke-width="4.8" stroke-linejoin="round" stroke-linecap="round" stroke-dasharray="14.7 13.8 0.01 15.5" clip-path="url(#cc)"/>
<path d="M157.5 1187.9 L159.5 1180.9 L161.5 1173.4 L163.5 1165.7 L165.5 1157.7 L167.5 1149.5 L169.5 1141.2 L171.5 1132.8 L173.5 1124.5 L175.5 1116.1 L177.5 1107.8 L179.5 1099.5 L181.5 1091.2 L183.5 1083.0 L185.5 1074.9 L187.5 1066.8 L189.5 1058.9 L191.5 1051.0 L193.5 1043.2 L195.5 1035.6 L197.5 1028.0 L199.5 1020.4 L201.5 1013.0 L203.5 1005.6 L205.5 998.2 L207.5 990.8 L209.5 983.4 L211.5 976.0 L213.5 968.6 L215.5 961.2 L217.5 953.7 L219.5 946.1 L221.5 938.5 L223.5 930.8 L225.5 923.0 L227.5 915.4 L229.5 907.8 L231.5 900.5 L233.5 893.3 L235.5 886.5 L237.5 880.1 L239.5 874.1 L241.5 868.6 L243.5 863.5 L245.5 858.9 L247.5 854.7 L249.5 850.9 L251.5 847.5 L253.5 844.5 L255.5 841.8 L257.5 839.6 L259.5 837.6 L261.5 836.0 L263.5 834.8 L265.5 833.9 L267.5 833.3 L269.5 833.0 L271.5 833.0 L273.5 833.2 L275.5 833.8 L277.5 834.6 L279.5 835.7 L281.5 837.0 L283.5 838.5 L285.5 840.3 L287.5 842.3 L289.5 844.5 L291.5 846.8 L293.5 849.4 L295.5 852.1 L297.5 855.0 L299.5 858.1 L301.5 861.3 L303.5 864.6 L305.5 868.1 L307.5 871.6 L309.5 875.3 L311.5 879.1 L313.5 882.9 L315.5 886.9 L317.5 890.8 L319.5 894.9 L321.5 899.0 L323.5 903.2 L325.5 907.4 L327.5 911.6 L329.5 915.9 L331.5 920.2 L333.5 924.5 L335.5 928.9 L337.5 933.2 L339.5 937.6 L341.5 942.0 L343.5 946.3 L345.5 950.7 L347.5 955.0 L349.5 959.3 L351.5 963.5 L353.5 967.8 L355.5 972.0 L357.5 976.1 L359.5 980.2 L361.5 984.2 L363.5 988.2 L365.5 992.1 L367.5 995.9 L369.5 999.7 L371.5 1003.4 L373.5 1007.1 L375.5 1010.7 L377.5 1014.3 L379.5 1017.8 L381.5 1021.2 L383.5 1024.6 L385.5 1027.9 L387.5 1031.2 L389.5 1034.5 L391.5 1037.7 L393.5 1040.8 L395.5 1043.9 L397.5 1046.9 L399.5 1049.9 L401.5 1052.9 L403.5 1055.8 L405.5 1058.6 L407.5 1061.5 L409.5 1064.2 L411.5 1067.0 L413.5 1069.6 L415.5 1072.3 L417.5 1074.9 L419.5 1077.5 L421.5 1080.0 L423.5 1082.5 L425.5 1085.0 L427.5 1087.4 L429.5 1089.9 L431.5 1092.2 L433.5 1094.6 L435.5 1097.0 L437.5 1099.3 L439.5 1101.6 L441.5 1103.8 L443.5 1106.1 L445.5 1108.3 L447.5 1110.6 L449.5 1112.8 L451.5 1115.0 L453.5 1117.2 L455.5 1119.4 L457.5 1121.6 L459.5 1123.7 L461.5 1125.9 L463.5 1128.1 L465.5 1130.3 L467.5 1132.5 L469.5 1134.6 L471.5 1136.8 L473.5 1139.0 L475.5 1141.2 L477.5 1143.4 L479.5 1145.7 L481.5 1147.9 L483.5 1150.1 L485.5 1152.4 L487.5 1154.7 L489.5 1157.0 L491.5 1159.2 L493.5 1161.5 L495.5 1163.8 L497.5 1166.1 L499.5 1168.4 L501.5 1170.7 L503.5 1173.0 L505.5 1175.4 L507.5 1177.7 L509.5 1180.0 L511.5 1182.3 L513.5 1184.5 L515.5 1186.8 L517.5 1189.1 L519.5 1191.4 L521.5 1193.6 L523.5 1195.9 L525.5 1198.1 L527.5 1200.4 L529.5 1202.6 L531.5 1204.8 L533.5 1207.0 L535.5 1209.1 L537.5 1211.3 L539.5 1213.4 L541.5 1215.5 L543.5 1217.6 L545.5 1219.7 L547.5 1221.7 L549.5 1223.7 L551.5 1225.7 L553.5 1227.7 L555.5 1229.6 L557.5 1231.5 L559.5 1233.4 L561.5 1235.3 L563.5 1237.1 L565.5 1238.9 L567.5 1240.7 L569.5 1242.4 L571.5 1244.2 L573.5 1245.9 L575.5 1247.5 L577.5 1249.2 L579.5 1250.8 L581.5 1252.4 L583.5 1254.0 L585.5 1255.6 L587.5 1257.1 L589.5 1258.6 L591.5 1260.1 L593.5 1261.6 L595.5 1263.0 L597.5 1264.5 L599.5 1265.9 L601.5 1267.2 L603.5 1268.6 L605.5 1269.9 L607.5 1271.3 L609.5 1272.6 L611.5 1273.9 L613.5 1275.1 L615.5 1276.4 L617.5 1277.6 L619.5 1278.8 L621.5 1280.0 L623.5 1281.1 L625.5 1282.3 L627.5 1283.4 L629.5 1284.5 L631.5 1285.6 L633.5 1286.7 L635.5 1287.8 L637.5 1288.8 L639.5 1289.8 L641.5 1290.8 L643.5 1291.8 L645.5 1292.8 L647.5 1293.7 L649.5 1294.7 L651.5 1295.6 L653.5 1296.5 L655.5 1297.4 L657.5 1298.3 L659.5 1299.1 L661.5 1300.0 L663.5 1300.8 L665.5 1301.6 L667.5 1302.4 L669.5 1303.2 L671.5 1303.9 L673.5 1304.7 L675.5 1305.4 L677.5 1306.2 L679.5 1306.9 L681.5 1307.6 L683.5 1308.2 L685.5 1308.9 L687.5 1309.6 L689.5 1310.2 L691.5 1310.8 L693.5 1311.5 L695.5 1312.1 L697.5 1312.7 L699.5 1313.2 L701.5 1313.8 L703.5 1314.4 L705.5 1314.9 L707.5 1315.4 L709.5 1316.0 L711.5 1316.5 L713.5 1317.0 L715.5 1317.5 L717.5 1317.9 L719.5 1318.4 L721.5 1318.9 L723.5 1319.3 L725.5 1319.7 L727.5 1320.2 L729.5 1320.6 L731.5 1321.0 L733.5 1321.4 L735.5 1321.8 L737.5 1322.2 L739.5 1322.5 L741.5 1322.9 L743.5 1323.3 L745.5 1323.6 L747.5 1323.9 L749.5 1324.3 L751.5 1324.6 L753.5 1324.9 L755.5 1325.2 L757.5 1325.5 L759.5 1325.8 L761.5 1326.1 L763.5 1326.4 L765.5 1326.7 L767.5 1326.9 L769.5 1327.2 L771.5 1327.5 L773.5 1327.7 L775.5 1328.0 L777.5 1328.2 L779.5 1328.4 L781.5 1328.7 L783.5 1328.9 L785.5 1329.1 L787.5 1329.3 L789.5 1329.5 L791.5 1329.7 L793.5 1329.9 L795.5 1330.1 L797.5 1330.3 L799.5 1330.5 L801.5 1330.7 L803.5 1330.9 L805.5 1331.1 L807.5 1331.3 L809.5 1331.4 L811.5 1331.6 L813.5 1331.8 L815.5 1332.0 L817.5 1332.1 L819.5 1332.3 L821.5 1332.5 L823.5 1332.6 L825.5 1332.8 L827.5 1333.0 L829.5 1333.1 L831.5 1333.3 L833.5 1333.4 L835.5 1333.6 L837.5 1333.8 L839.5 1333.9 L841.5 1334.1 L843.5 1334.3 L845.5 1334.4 L847.5 1334.6 L849.5 1334.7 L851.5 1334.9 L853.5 1335.1 L855.5 1335.2 L857.5 1335.4 L859.5 1335.6 L861.5 1335.7 L863.5 1335.9 L865.5 1336.1 L867.5 1336.3 L869.5 1336.5 L871.5 1336.6 L873.5 1336.8 L875.5 1337.0 L877.5 1337.2 L879.5 1337.4 L881.5 1337.6 L882.0 1337.7" fill="none" stroke="#ff0000" stroke-width="4.5" stroke-linejoin="round" stroke-linecap="butt" clip-path="url(#cc)"/>
<g stroke="#000" stroke-width="4.5" stroke-linecap="round"><line x1="1177.3" y1="1345.6" x2="1177.3" y2="1357.6"/><line x1="1317.1" y1="1345.6" x2="1317.1" y2="1352.6"/><line x1="1457.0" y1="1345.6" x2="1457.0" y2="1357.6"/><line x1="1596.8" y1="1345.6" x2="1596.8" y2="1352.6"/><line x1="1736.7" y1="1345.6" x2="1736.7" y2="1357.6"/><line x1="1108.2" y1="1345.6" x2="1120.2" y2="1345.6"/><line x1="1108.2" y1="1193.8" x2="1120.2" y2="1193.8"/><line x1="1108.2" y1="1042.0" x2="1120.2" y2="1042.0"/><line x1="1108.2" y1="890.2" x2="1120.2" y2="890.2"/><line x1="1113.7" y1="1269.7" x2="1120.2" y2="1269.7"/><line x1="1113.7" y1="1117.9" x2="1120.2" y2="1117.9"/><line x1="1113.7" y1="966.1" x2="1120.2" y2="966.1"/><line x1="1113.7" y1="814.3" x2="1120.2" y2="814.3"/></g>
<g font-family="'Liberation Serif','Times New Roman',serif" font-weight="bold" font-size="50" fill="#000"><text x="1177.3" y="1395.5" text-anchor="middle">500</text><text x="1457.0" y="1395.5" text-anchor="middle">550</text><text x="1736.7" y="1395.5" text-anchor="middle">600</text><text x="1098.5" y="1362.1" text-anchor="end">0</text><text x="1098.5" y="1210.3" text-anchor="end">40</text><text x="1098.5" y="1058.5" text-anchor="end">80</text><text x="1098.5" y="906.7" text-anchor="end">120</text></g>
<rect x="1120.2" y="755.0" width="731.8" height="590.6" fill="none" stroke="#000" stroke-width="5" stroke-linejoin="round"/>
<path d="M1121.0 1191.6 L1123.0 1183.9 L1125.0 1176.0 L1127.0 1167.8 L1129.0 1159.5 L1131.0 1151.0 L1133.0 1142.3 L1135.0 1133.5 L1137.0 1124.5 L1139.0 1115.4 L1141.0 1106.3 L1143.0 1097.0 L1145.0 1087.7 L1147.0 1078.3 L1149.0 1068.9 L1151.0 1059.5 L1153.0 1050.0 L1155.0 1040.6 L1157.0 1031.2 L1159.0 1021.8 L1161.0 1012.5 L1163.0 1003.3 L1165.0 994.1 L1167.0 985.1 L1169.0 976.2 L1171.0 967.4 L1173.0 958.7 L1175.0 950.2 L1177.0 941.9 L1179.0 933.8 L1181.0 925.9 L1183.0 918.2 L1185.0 910.8 L1187.0 903.6 L1189.0 896.6 L1191.0 889.9 L1193.0 883.4 L1195.0 877.2 L1197.0 871.2 L1199.0 865.4 L1201.0 860.0 L1203.0 854.7 L1205.0 849.8 L1207.0 845.1 L1209.0 840.7 L1211.0 836.6 L1213.0 832.7 L1215.0 829.2 L1217.0 825.9 L1219.0 822.9 L1221.0 820.3 L1223.0 817.9 L1225.0 815.8 L1227.0 814.0 L1229.0 812.6 L1231.0 811.4 L1233.0 810.6 L1235.0 810.1 L1237.0 809.9 L1239.0 810.0 L1241.0 810.5 L1243.0 811.2 L1245.0 812.3 L1247.0 813.6 L1249.0 815.1 L1251.0 816.9 L1253.0 819.0 L1255.0 821.3 L1257.0 823.9 L1259.0 826.6 L1261.0 829.6 L1263.0 832.8 L1265.0 836.1 L1267.0 839.6 L1269.0 843.4 L1271.0 847.2 L1273.0 851.2 L1275.0 855.4 L1277.0 859.7 L1279.0 864.1 L1281.0 868.6 L1283.0 873.2 L1285.0 877.9 L1287.0 882.7 L1289.0 887.5 L1291.0 892.5 L1293.0 897.4 L1295.0 902.5 L1297.0 907.5 L1299.0 912.6 L1301.0 917.7 L1303.0 922.8 L1305.0 927.8 L1307.0 932.9 L1309.0 937.9 L1311.0 943.0 L1313.0 947.9 L1315.0 952.9 L1317.0 957.8 L1319.0 962.6 L1321.0 967.4 L1323.0 972.1 L1325.0 976.8 L1327.0 981.5 L1329.0 986.0 L1331.0 990.5 L1333.0 995.0 L1335.0 999.3 L1337.0 1003.6 L1339.0 1007.8 L1341.0 1012.0 L1343.0 1016.0 L1345.0 1020.0 L1347.0 1023.9 L1349.0 1027.7 L1351.0 1031.4 L1353.0 1035.1 L1355.0 1038.7 L1357.0 1042.2 L1359.0 1045.7 L1361.0 1049.1 L1363.0 1052.5 L1365.0 1055.8 L1367.0 1059.0 L1369.0 1062.3 L1371.0 1065.4 L1373.0 1068.6 L1375.0 1071.7 L1377.0 1074.7 L1379.0 1077.7 L1381.0 1080.7 L1383.0 1083.6 L1385.0 1086.6 L1387.0 1089.4 L1389.0 1092.3 L1391.0 1095.1 L1393.0 1097.8 L1395.0 1100.6 L1397.0 1103.3 L1399.0 1106.0 L1401.0 1108.6 L1403.0 1111.3 L1405.0 1113.9 L1407.0 1116.4 L1409.0 1119.0 L1411.0 1121.5 L1413.0 1124.0 L1415.0 1126.4 L1417.0 1128.9 L1419.0 1131.3 L1421.0 1133.7 L1423.0 1136.0 L1425.0 1138.4 L1427.0 1140.7 L1429.0 1143.0 L1431.0 1145.3 L1433.0 1147.6 L1435.0 1149.9 L1437.0 1152.1 L1439.0 1154.3 L1441.0 1156.5 L1443.0 1158.7 L1445.0 1160.9 L1447.0 1163.1 L1449.0 1165.2 L1451.0 1167.3 L1453.0 1169.5 L1455.0 1171.6 L1457.0 1173.7 L1459.0 1175.8 L1461.0 1177.9 L1463.0 1180.0 L1465.0 1182.0 L1467.0 1184.1 L1469.0 1186.2 L1471.0 1188.2 L1473.0 1190.3 L1475.0 1192.3 L1477.0 1194.4 L1479.0 1196.4 L1481.0 1198.4 L1483.0 1200.4 L1485.0 1202.4 L1487.0 1204.4 L1489.0 1206.4 L1491.0 1208.4 L1493.0 1210.4 L1495.0 1212.3 L1497.0 1214.3 L1499.0 1216.2 L1501.0 1218.2 L1503.0 1220.1 L1505.0 1222.0 L1507.0 1223.9 L1509.0 1225.8 L1511.0 1227.6 L1513.0 1229.5 L1515.0 1231.3 L1517.0 1233.2 L1519.0 1235.0 L1521.0 1236.8 L1523.0 1238.6 L1525.0 1240.3 L1527.0 1242.1 L1529.0 1243.8 L1531.0 1245.6 L1533.0 1247.3 L1535.0 1249.0 L1537.0 1250.6 L1539.0 1252.3 L1541.0 1253.9 L1543.0 1255.6 L1545.0 1257.2 L1547.0 1258.8 L1549.0 1260.3 L1551.0 1261.9 L1553.0 1263.4 L1555.0 1264.9 L1557.0 1266.4 L1559.0 1267.9 L1561.0 1269.3 L1563.0 1270.7 L1565.0 1272.2 L1567.0 1273.5 L1569.0 1274.9 L1571.0 1276.2 L1573.0 1277.5 L1575.0 1278.8 L1577.0 1280.1 L1579.0 1281.4 L1581.0 1282.6 L1583.0 1283.8 L1585.0 1285.0 L1587.0 1286.1 L1589.0 1287.3 L1591.0 1288.4 L1593.0 1289.5 L1595.0 1290.6 L1597.0 1291.7 L1599.0 1292.7 L1601.0 1293.7 L1603.0 1294.7 L1605.0 1295.7 L1607.0 1296.7 L1609.0 1297.6 L1611.0 1298.6 L1613.0 1299.5 L1615.0 1300.4 L1617.0 1301.2 L1619.0 1302.1 L1621.0 1302.9 L1623.0 1303.8 L1625.0 1304.6 L1627.0 1305.4 L1629.0 1306.1 L1631.0 1306.9 L1633.0 1307.6 L1635.0 1308.4 L1637.0 1309.1 L1639.0 1309.8 L1641.0 1310.5 L1643.0 1311.1 L1645.0 1311.8 L1647.0 1312.4 L1649.0 1313.1 L1651.0 1313.7 L1653.0 1314.3 L1655.0 1314.8 L1657.0 1315.4 L1659.0 1316.0 L1661.0 1316.5 L1663.0 1317.0 L1665.0 1317.6 L1667.0 1318.1 L1669.0 1318.6 L1671.0 1319.1 L1673.0 1319.5 L1675.0 1320.0 L1677.0 1320.4 L1679.0 1320.9 L1681.0 1321.3 L1683.0 1321.7 L1685.0 1322.1 L1687.0 1322.5 L1689.0 1322.9 L1691.0 1323.3 L1693.0 1323.6 L1695.0 1324.0 L1697.0 1324.4 L1699.0 1324.7 L1701.0 1325.0 L1703.0 1325.3 L1705.0 1325.7 L1707.0 1326.0 L1709.0 1326.3 L1711.0 1326.6 L1713.0 1326.9 L1715.0 1327.1 L1717.0 1327.4 L1719.0 1327.7 L1721.0 1327.9 L1723.0 1328.2 L1725.0 1328.4 L1727.0 1328.7 L1729.0 1328.9 L1731.0 1329.1 L1733.0 1329.4 L1735.0 1329.6 L1737.0 1329.8 L1739.0 1330.0 L1741.0 1330.2 L1743.0 1330.4 L1745.0 1330.6 L1747.0 1330.8 L1749.0 1331.0 L1751.0 1331.2 L1753.0 1331.4 L1755.0 1331.5 L1757.0 1331.7 L1759.0 1331.9 L1761.0 1332.1 L1763.0 1332.3 L1765.0 1332.4 L1767.0 1332.6 L1769.0 1332.8 L1771.0 1332.9 L1773.0 1333.1 L1775.0 1333.3 L1777.0 1333.4 L1779.0 1333.6 L1781.0 1333.8 L1783.0 1333.9 L1785.0 1334.1 L1787.0 1334.3 L1789.0 1334.4 L1791.0 1334.6 L1793.0 1334.8 L1795.0 1335.0 L1797.0 1335.1 L1799.0 1335.3 L1801.0 1335.5 L1803.0 1335.7 L1805.0 1335.9 L1807.0 1336.0 L1809.0 1336.2 L1811.0 1336.4 L1813.0 1336.6 L1815.0 1336.8 L1817.0 1337.0 L1819.0 1337.2 L1821.0 1337.5 L1823.0 1337.7 L1825.0 1337.9 L1827.0 1338.1 L1829.0 1338.4 L1831.0 1338.6 L1833.0 1338.8 L1835.0 1339.1 L1837.0 1339.3 L1839.0 1339.6 L1841.0 1339.9 L1843.0 1340.2 L1845.0 1340.4 L1847.0 1340.7 L1849.0 1341.0 L1851.0 1341.3" fill="none" stroke="#000" stroke-width="4.6" stroke-linejoin="round" stroke-linecap="butt" clip-path="url(#cd)"/>
<path d="M1121.0 1197.4 L1123.0 1189.4 L1125.0 1181.2 L1127.0 1173.0 L1129.0 1164.6 L1131.0 1156.2 L1133.0 1147.6 L1135.0 1139.0 L1137.0 1130.2 L1139.0 1121.4 L1141.0 1112.6 L1143.0 1103.7 L1145.0 1094.7 L1147.0 1085.7 L1149.0 1076.6 L1151.0 1067.6 L1153.0 1058.5 L1155.0 1049.4 L1157.0 1040.2 L1159.0 1031.1 L1161.0 1022.0 L1163.0 1012.9 L1165.0 1003.8 L1167.0 994.8 L1169.0 985.8 L1171.0 976.8 L1173.0 967.9 L1175.0 959.1 L1177.0 950.5 L1179.0 942.0 L1181.0 933.6 L1183.0 925.5 L1185.0 917.6 L1187.0 910.0 L1189.0 902.7 L1191.0 895.7 L1193.0 889.1 L1195.0 882.8 L1197.0 876.9 L1199.0 871.4 L1201.0 866.2 L1203.0 861.4 L1205.0 856.9 L1207.0 852.8 L1209.0 849.1 L1211.0 845.7 L1213.0 842.6 L1215.0 839.9 L1217.0 837.5 L1219.0 835.4 L1221.0 833.6 L1223.0 832.2 L1225.0 831.0 L1227.0 830.0 L1229.0 829.3 L1231.0 828.8 L1233.0 828.5 L1235.0 828.4 L1237.0 828.4 L1239.0 828.6 L1241.0 828.9 L1243.0 829.3 L1245.0 829.8 L1247.0 830.5 L1249.0 831.4 L1251.0 832.3 L1253.0 833.5 L1255.0 834.9 L1257.0 836.5 L1259.0 838.4 L1261.0 840.5 L1263.0 842.8 L1265.0 845.5 L1267.0 848.4 L1269.0 851.6 L1271.0 855.1 L1273.0 858.8 L1275.0 862.8 L1277.0 867.0 L1279.0 871.3 L1281.0 875.9 L1283.0 880.6 L1285.0 885.4 L1287.0 890.3 L1289.0 895.4 L1291.0 900.5 L1293.0 905.7 L1295.0 911.0 L1297.0 916.2 L1299.0 921.5 L1301.0 926.8 L1303.0 932.0 L1305.0 937.2 L1307.0 942.4 L1309.0 947.5 L1311.0 952.5 L1313.0 957.4 L1315.0 962.2 L1317.0 967.0 L1319.0 971.7 L1321.0 976.3 L1323.0 980.8 L1325.0 985.3 L1327.0 989.7 L1329.0 994.1 L1331.0 998.4 L1333.0 1002.6 L1335.0 1006.7 L1337.0 1010.8 L1339.0 1014.8 L1341.0 1018.8 L1343.0 1022.7 L1345.0 1026.5 L1347.0 1030.3 L1349.0 1034.1 L1351.0 1037.7 L1353.0 1041.4 L1355.0 1044.9 L1357.0 1048.5 L1359.0 1051.9 L1361.0 1055.4 L1363.0 1058.7 L1365.0 1062.1 L1367.0 1065.4 L1369.0 1068.6 L1371.0 1071.8 L1373.0 1075.0 L1375.0 1078.1 L1377.0 1081.2 L1379.0 1084.2 L1381.0 1087.2 L1383.0 1090.2 L1385.0 1093.1 L1387.0 1096.0 L1389.0 1098.9 L1391.0 1101.7 L1393.0 1104.5 L1395.0 1107.3 L1397.0 1110.1 L1399.0 1112.8 L1401.0 1115.5 L1403.0 1118.2 L1405.0 1120.8 L1407.0 1123.4 L1409.0 1126.0 L1411.0 1128.6 L1413.0 1131.2 L1415.0 1133.7 L1417.0 1136.2 L1419.0 1138.7 L1421.0 1141.2 L1423.0 1143.6 L1425.0 1146.0 L1427.0 1148.4 L1429.0 1150.8 L1431.0 1153.1 L1433.0 1155.5 L1435.0 1157.8 L1437.0 1160.1 L1439.0 1162.3 L1441.0 1164.6 L1443.0 1166.8 L1445.0 1169.0 L1447.0 1171.2 L1449.0 1173.4 L1451.0 1175.5 L1453.0 1177.7 L1455.0 1179.8 L1457.0 1181.9 L1459.0 1183.9 L1461.0 1186.0 L1463.0 1188.1 L1465.0 1190.1 L1467.0 1192.1 L1469.0 1194.1 L1471.0 1196.1 L1473.0 1198.0 L1475.0 1200.0 L1477.0 1201.9 L1479.0 1203.9 L1481.0 1205.8 L1483.0 1207.7 L1485.0 1209.5 L1487.0 1211.4 L1489.0 1213.2 L1491.0 1215.1 L1493.0 1216.9 L1495.0 1218.7 L1497.0 1220.5 L1499.0 1222.3 L1501.0 1224.1 L1503.0 1225.8 L1505.0 1227.6 L1507.0 1229.3 L1509.0 1231.0 L1511.0 1232.7 L1513.0 1234.4 L1515.0 1236.1 L1517.0 1237.8 L1519.0 1239.4 L1521.0 1241.1 L1523.0 1242.7 L1525.0 1244.3 L1527.0 1245.9 L1529.0 1247.5 L1531.0 1249.0 L1533.0 1250.6 L1535.0 1252.1 L1537.0 1253.7 L1539.0 1255.2 L1541.0 1256.7 L1543.0 1258.1 L1545.0 1259.6 L1547.0 1261.1 L1549.0 1262.5 L1551.0 1263.9 L1553.0 1265.3 L1555.0 1266.7 L1557.0 1268.1 L1559.0 1269.5 L1561.0 1270.8 L1563.0 1272.2 L1565.0 1273.5 L1567.0 1274.8 L1569.0 1276.1 L1571.0 1277.4 L1573.0 1278.6 L1575.0 1279.9 L1577.0 1281.1 L1579.0 1282.3 L1581.0 1283.5 L1583.0 1284.7 L1585.0 1285.9 L1587.0 1287.0 L1589.0 1288.2 L1591.0 1289.3 L1593.0 1290.4 L1595.0 1291.5 L1597.0 1292.6 L1599.0 1293.7 L1601.0 1294.7 L1603.0 1295.7 L1605.0 1296.8 L1607.0 1297.8 L1609.0 1298.7 L1611.0 1299.7 L1613.0 1300.7 L1615.0 1301.6 L1617.0 1302.5 L1619.0 1303.4 L1621.0 1304.3 L1623.0 1305.2 L1625.0 1306.1 L1627.0 1306.9 L1629.0 1307.7 L1631.0 1308.6 L1633.0 1309.3 L1635.0 1310.1 L1637.0 1310.9 L1639.0 1311.6 L1641.0 1312.4 L1643.0 1313.1 L1645.0 1313.8 L1647.0 1314.5 L1649.0 1315.1 L1651.0 1315.8 L1653.0 1316.4 L1655.0 1317.0 L1657.0 1317.6 L1659.0 1318.2 L1661.0 1318.8 L1663.0 1319.3 L1665.0 1319.9 L1667.0 1320.4 L1669.0 1320.9 L1671.0 1321.4 L1673.0 1321.8 L1675.0 1322.3 L1677.0 1322.7 L1679.0 1323.1 L1681.0 1323.5 L1683.0 1323.9 L1685.0 1324.3 L1687.0 1324.7 L1689.0 1325.0 L1691.0 1325.4 L1693.0 1325.7 L1695.0 1326.0 L1697.0 1326.3 L1699.0 1326.6 L1701.0 1326.9 L1703.0 1327.1 L1705.0 1327.4 L1707.0 1327.6 L1709.0 1327.9 L1711.0 1328.1 L1713.0 1328.3 L1715.0 1328.5 L1717.0 1328.7 L1719.0 1328.9 L1721.0 1329.1 L1723.0 1329.3 L1725.0 1329.5 L1727.0 1329.7 L1729.0 1329.8 L1731.0 1330.0 L1733.0 1330.1 L1735.0 1330.3 L1737.0 1330.4 L1739.0 1330.6 L1741.0 1330.7 L1743.0 1330.8 L1745.0 1331.0 L1747.0 1331.1 L1749.0 1331.2 L1751.0 1331.4 L1753.0 1331.5 L1755.0 1331.6 L1757.0 1331.7 L1759.0 1331.8 L1761.0 1332.0 L1763.0 1332.1 L1765.0 1332.2 L1767.0 1332.3 L1769.0 1332.5 L1771.0 1332.6 L1773.0 1332.7 L1775.0 1332.9 L1777.0 1333.0 L1779.0 1333.1 L1781.0 1333.3 L1783.0 1333.4 L1785.0 1333.6 L1787.0 1333.7 L1789.0 1333.9 L1791.0 1334.1 L1793.0 1334.2 L1795.0 1334.4 L1797.0 1334.6 L1799.0 1334.8 L1801.0 1335.0 L1803.0 1335.2 L1805.0 1335.4 L1807.0 1335.7 L1809.0 1335.9 L1811.0 1336.1 L1813.0 1336.4 L1815.0 1336.7 L1817.0 1336.9 L1819.0 1337.2 L1821.0 1337.5 L1823.0 1337.8 L1825.0 1338.1 L1827.0 1338.5 L1829.0 1338.8 L1831.0 1339.2 L1833.0 1339.6 L1835.0 1339.9 L1837.0 1340.3 L1839.0 1340.8 L1841.0 1341.2 L1843.0 1341.6 L1845.0 1342.1 L1847.0 1342.6" fill="none" stroke="#ff0000" stroke-width="4.6" stroke-linejoin="round" stroke-linecap="butt" clip-path="url(#cd)"/>
<path d="M1121.0 1196.9 L1123.0 1189.4 L1125.0 1181.7 L1127.0 1173.8 L1129.0 1165.6 L1131.0 1157.3 L1133.0 1148.8 L1135.0 1140.1 L1137.0 1131.2 L1139.0 1122.3 L1141.0 1113.2 L1143.0 1104.0 L1145.0 1094.7 L1147.0 1085.4 L1149.0 1076.1 L1151.0 1066.7 L1153.0 1057.3 L1155.0 1047.9 L1157.0 1038.5 L1159.0 1029.2 L1161.0 1020.0 L1163.0 1010.8 L1165.0 1001.7 L1167.0 992.7 L1169.0 983.9 L1171.0 975.2 L1173.0 966.6 L1175.0 958.3 L1177.0 950.0 L1179.0 942.0 L1181.0 934.2 L1183.0 926.5 L1185.0 919.1 L1187.0 911.9 L1189.0 904.9 L1191.0 898.1 L1193.0 891.5 L1195.0 885.2 L1197.0 879.2 L1199.0 873.4 L1201.0 867.9 L1203.0 862.7 L1205.0 857.7 L1207.0 853.0 L1209.0 848.7 L1211.0 844.6 L1213.0 840.9 L1215.0 837.5 L1217.0 834.4 L1219.0 831.6 L1221.0 829.2 L1223.0 827.2 L1225.0 825.4 L1227.0 823.9 L1229.0 822.8 L1231.0 822.0 L1233.0 821.4 L1235.0 821.1 L1237.0 821.1 L1239.0 821.4 L1241.0 821.9 L1243.0 822.7 L1245.0 823.7 L1247.0 825.0 L1249.0 826.5 L1251.0 828.3 L1253.0 830.3 L1255.0 832.5 L1257.0 834.9 L1259.0 837.6 L1261.0 840.4 L1263.0 843.5 L1265.0 846.8 L1267.0 850.3 L1269.0 854.0 L1271.0 857.9 L1273.0 861.9 L1275.0 866.1 L1277.0 870.5 L1279.0 874.9 L1281.0 879.5 L1283.0 884.2 L1285.0 889.0 L1287.0 893.8 L1289.0 898.8 L1291.0 903.7 L1293.0 908.8 L1295.0 913.8 L1297.0 918.9 L1299.0 923.9 L1301.0 929.0 L1303.0 934.0 L1305.0 939.0 L1307.0 944.0 L1309.0 948.9 L1311.0 953.7 L1313.0 958.5 L1315.0 963.2 L1317.0 967.9 L1319.0 972.5 L1321.0 977.1 L1323.0 981.6 L1325.0 986.0 L1327.0 990.4 L1329.0 994.8 L1331.0 999.0 L1333.0 1003.3 L1335.0 1007.5 L1337.0 1011.6 L1339.0 1015.7 L1341.0 1019.7 L1343.0 1023.6 L1345.0 1027.6 L1347.0 1031.4 L1349.0 1035.3 L1351.0 1039.0 L1353.0 1042.8 L1355.0 1046.4 L1357.0 1050.1 L1359.0 1053.6 L1361.0 1057.2 L1363.0 1060.7 L1365.0 1064.1 L1367.0 1067.5 L1369.0 1070.8 L1371.0 1074.2 L1373.0 1077.4 L1375.0 1080.6 L1377.0 1083.8 L1379.0 1086.9 L1381.0 1090.0 L1383.0 1093.1 L1385.0 1096.1 L1387.0 1099.1 L1389.0 1102.0 L1391.0 1104.9 L1393.0 1107.7 L1395.0 1110.6 L1397.0 1113.3 L1399.0 1116.1 L1401.0 1118.8 L1403.0 1121.4 L1405.0 1124.1 L1407.0 1126.6 L1409.0 1129.2 L1411.0 1131.7 L1413.0 1134.2 L1415.0 1136.7 L1417.0 1139.1 L1419.0 1141.5 L1421.0 1143.9 L1423.0 1146.2 L1425.0 1148.6 L1427.0 1150.8 L1429.0 1153.1 L1431.0 1155.3 L1433.0 1157.6 L1435.0 1159.7 L1437.0 1161.9 L1439.0 1164.1 L1441.0 1166.2 L1443.0 1168.3 L1445.0 1170.4 L1447.0 1172.4 L1449.0 1174.5 L1451.0 1176.5 L1453.0 1178.5 L1455.0 1180.5 L1457.0 1182.5 L1459.0 1184.5 L1461.0 1186.4 L1463.0 1188.3 L1465.0 1190.3 L1467.0 1192.2 L1469.0 1194.1 L1471.0 1196.0 L1473.0 1197.9 L1475.0 1199.8 L1477.0 1201.6 L1479.0 1203.5 L1481.0 1205.3 L1483.0 1207.2 L1485.0 1209.1 L1487.0 1210.9 L1489.0 1212.7 L1491.0 1214.6 L1493.0 1216.4 L1495.0 1218.2 L1497.0 1220.1 L1499.0 1221.9 L1501.0 1223.7 L1503.0 1225.5 L1505.0 1227.3 L1507.0 1229.1 L1509.0 1230.9 L1511.0 1232.7 L1513.0 1234.5 L1515.0 1236.2 L1517.0 1238.0 L1519.0 1239.7 L1521.0 1241.5 L1523.0 1243.2 L1525.0 1244.9 L1527.0 1246.6 L1529.0 1248.3 L1531.0 1250.0 L1533.0 1251.6 L1535.0 1253.3 L1537.0 1254.9 L1539.0 1256.5 L1541.0 1258.1 L1543.0 1259.7 L1545.0 1261.3 L1547.0 1262.8 L1549.0 1264.4 L1551.0 1265.9 L1553.0 1267.4 L1555.0 1268.9 L1557.0 1270.3 L1559.0 1271.8 L1561.0 1273.2 L1563.0 1274.6 L1565.0 1276.0 L1567.0 1277.4 L1569.0 1278.7 L1571.0 1280.0 L1573.0 1281.3 L1575.0 1282.6 L1577.0 1283.8 L1579.0 1285.0 L1581.0 1286.2 L1583.0 1287.4 L1585.0 1288.6 L1587.0 1289.7 L1589.0 1290.8 L1591.0 1291.9 L1593.0 1292.9 L1595.0 1293.9 L1597.0 1295.0 L1599.0 1296.0 L1601.0 1296.9 L1603.0 1297.9 L1605.0 1298.8 L1607.0 1299.7 L1609.0 1300.6 L1611.0 1301.5 L1613.0 1302.3 L1615.0 1303.2 L1617.0 1304.0 L1619.0 1304.8 L1621.0 1305.6 L1623.0 1306.3 L1625.0 1307.1 L1627.0 1307.8 L1629.0 1308.5 L1631.0 1309.2 L1633.0 1309.9 L1635.0 1310.5 L1637.0 1311.2 L1639.0 1311.8 L1641.0 1312.4 L1643.0 1313.0 L1645.0 1313.6 L1647.0 1314.2 L1649.0 1314.8 L1651.0 1315.3 L1653.0 1315.9 L1655.0 1316.4 L1657.0 1316.9 L1659.0 1317.4 L1661.0 1317.9 L1663.0 1318.4 L1665.0 1318.8 L1667.0 1319.3 L1669.0 1319.8 L1671.0 1320.2 L1673.0 1320.6 L1675.0 1321.0 L1677.0 1321.5 L1679.0 1321.9 L1681.0 1322.3 L1683.0 1322.6 L1685.0 1323.0 L1687.0 1323.4 L1689.0 1323.7 L1691.0 1324.1 L1693.0 1324.4 L1695.0 1324.8 L1697.0 1325.1 L1699.0 1325.4 L1701.0 1325.7 L1703.0 1326.0 L1705.0 1326.3 L1707.0 1326.6 L1709.0 1326.9 L1711.0 1327.2 L1713.0 1327.5 L1715.0 1327.7 L1717.0 1328.0 L1719.0 1328.2 L1721.0 1328.5 L1723.0 1328.7 L1725.0 1329.0 L1727.0 1329.2 L1729.0 1329.4 L1731.0 1329.7 L1733.0 1329.9 L1735.0 1330.1 L1737.0 1330.3 L1739.0 1330.5 L1741.0 1330.7 L1743.0 1330.9 L1745.0 1331.1 L1747.0 1331.3 L1749.0 1331.5 L1751.0 1331.7 L1753.0 1331.9 L1755.0 1332.1 L1757.0 1332.3 L1759.0 1332.5 L1761.0 1332.6 L1763.0 1332.8 L1765.0 1333.0 L1767.0 1333.2 L1769.0 1333.3 L1771.0 1333.5 L1773.0 1333.7 L1775.0 1333.9 L1777.0 1334.0 L1779.0 1334.2 L1781.0 1334.4 L1783.0 1334.5 L1785.0 1334.7 L1787.0 1334.9 L1789.0 1335.0 L1791.0 1335.2 L1793.0 1335.4 L1795.0 1335.6 L1797.0 1335.7 L1799.0 1335.9 L1801.0 1336.1 L1803.0 1336.3 L1805.0 1336.5 L1807.0 1336.6 L1809.0 1336.8 L1811.0 1337.0 L1813.0 1337.2 L1815.0 1337.4 L1817.0 1337.6 L1819.0 1337.8 L1821.0 1338.0 L1823.0 1338.2 L1825.0 1338.4 L1827.0 1338.6 L1829.0 1338.9 L1831.0 1339.1 L1833.0 1339.3 L1835.0 1339.5 L1837.0 1339.8 L1839.0 1340.0 L1841.0 1340.3 L1843.0 1340.5 L1845.0 1340.8 L1847.0 1341.0" fill="none" stroke="#0000ff" stroke-width="4.6" stroke-linejoin="round" stroke-linecap="butt" clip-path="url(#cd)"/>
<path d="M1121.0 1201.4 L1123.0 1192.6 L1125.0 1183.9 L1127.0 1175.4 L1129.0 1166.9 L1131.0 1158.5 L1133.0 1150.2 L1135.0 1141.9 L1137.0 1133.6 L1139.0 1125.3 L1141.0 1117.0 L1143.0 1108.7 L1145.0 1100.4 L1147.0 1091.9 L1149.0 1083.4 L1151.0 1074.8 L1153.0 1066.1 L1155.0 1057.2 L1157.0 1048.2 L1159.0 1039.1 L1161.0 1029.8 L1163.0 1020.5 L1165.0 1011.2 L1167.0 1001.8 L1169.0 992.4 L1171.0 983.0 L1173.0 973.7 L1175.0 964.4 L1177.0 955.3 L1179.0 946.2 L1181.0 937.4 L1183.0 928.8 L1185.0 920.6 L1187.0 912.8 L1189.0 905.3 L1191.0 898.2 L1193.0 891.5 L1195.0 885.1 L1197.0 879.0 L1199.0 873.3 L1201.0 868.0 L1203.0 863.0 L1205.0 858.3 L1207.0 854.0 L1209.0 850.0 L1211.0 846.3 L1213.0 842.9 L1215.0 839.9 L1217.0 837.1 L1219.0 834.7 L1221.0 832.6 L1223.0 830.8 L1225.0 829.3 L1227.0 828.1 L1229.0 827.1 L1231.0 826.5 L1233.0 826.1 L1235.0 826.1 L1237.0 826.3 L1239.0 826.7 L1241.0 827.5 L1243.0 828.5 L1245.0 829.8 L1247.0 831.3 L1249.0 833.1 L1251.0 835.1 L1253.0 837.4 L1255.0 839.9 L1257.0 842.6 L1259.0 845.6 L1261.0 848.7 L1263.0 852.1 L1265.0 855.7 L1267.0 859.4 L1269.0 863.3 L1271.0 867.3 L1273.0 871.5 L1275.0 875.8 L1277.0 880.3 L1279.0 884.8 L1281.0 889.5 L1283.0 894.3 L1285.0 899.1 L1287.0 904.1 L1289.0 909.0 L1291.0 914.1 L1293.0 919.2 L1295.0 924.3 L1297.0 929.4 L1299.0 934.6 L1301.0 939.7 L1303.0 944.9 L1305.0 950.0 L1307.0 955.1 L1309.0 960.2 L1311.0 965.2 L1313.0 970.2 L1315.0 975.1 L1317.0 979.9 L1319.0 984.7 L1321.0 989.4 L1323.0 994.0 L1325.0 998.5 L1327.0 1003.0 L1329.0 1007.4 L1331.0 1011.8 L1333.0 1016.1 L1335.0 1020.3 L1337.0 1024.5 L1339.0 1028.6 L1341.0 1032.6 L1343.0 1036.6 L1345.0 1040.5 L1347.0 1044.4 L1349.0 1048.2 L1351.0 1052.0 L1353.0 1055.7 L1355.0 1059.3 L1357.0 1062.9 L1359.0 1066.4 L1361.0 1069.9 L1363.0 1073.3 L1365.0 1076.7 L1367.0 1080.1 L1369.0 1083.3 L1371.0 1086.6 L1373.0 1089.8 L1375.0 1092.9 L1377.0 1096.0 L1379.0 1099.0 L1381.0 1102.0 L1383.0 1105.0 L1385.0 1107.9 L1387.0 1110.8 L1389.0 1113.6 L1391.0 1116.4 L1393.0 1119.2 L1395.0 1121.9 L1397.0 1124.6 L1399.0 1127.2 L1401.0 1129.8 L1403.0 1132.4 L1405.0 1134.9 L1407.0 1137.4 L1409.0 1139.9 L1411.0 1142.4 L1413.0 1144.8 L1415.0 1147.1 L1417.0 1149.5 L1419.0 1151.8 L1421.0 1154.1 L1423.0 1156.4 L1425.0 1158.6 L1427.0 1160.8 L1429.0 1163.0 L1431.0 1165.2 L1433.0 1167.4 L1435.0 1169.5 L1437.0 1171.6 L1439.0 1173.7 L1441.0 1175.8 L1443.0 1177.8 L1445.0 1179.8 L1447.0 1181.9 L1449.0 1183.9 L1451.0 1185.8 L1453.0 1187.8 L1455.0 1189.8 L1457.0 1191.7 L1459.0 1193.7 L1461.0 1195.6 L1463.0 1197.5 L1465.0 1199.4 L1467.0 1201.3 L1469.0 1203.2 L1471.0 1205.1 L1473.0 1206.9 L1475.0 1208.8 L1477.0 1210.7 L1479.0 1212.5 L1481.0 1214.4 L1483.0 1216.2 L1485.0 1218.0 L1487.0 1219.9 L1489.0 1221.7 L1491.0 1223.5 L1493.0 1225.2 L1495.0 1227.0 L1497.0 1228.8 L1499.0 1230.5 L1501.0 1232.3 L1503.0 1234.0 L1505.0 1235.7 L1507.0 1237.5 L1509.0 1239.1 L1511.0 1240.8 L1513.0 1242.5 L1515.0 1244.2 L1517.0 1245.8 L1519.0 1247.4 L1521.0 1249.1 L1523.0 1250.7 L1525.0 1252.3 L1527.0 1253.8 L1529.0 1255.4 L1531.0 1256.9 L1533.0 1258.5 L1535.0 1260.0 L1537.0 1261.5 L1539.0 1263.0 L1541.0 1264.4 L1543.0 1265.9 L1545.0 1267.3 L1547.0 1268.7 L1549.0 1270.1 L1551.0 1271.5 L1553.0 1272.9 L1555.0 1274.2 L1557.0 1275.5 L1559.0 1276.8 L1561.0 1278.1 L1563.0 1279.4 L1565.0 1280.6 L1567.0 1281.8 L1569.0 1283.1 L1571.0 1284.2 L1573.0 1285.4 L1575.0 1286.5 L1577.0 1287.7 L1579.0 1288.8 L1581.0 1289.9 L1583.0 1290.9 L1585.0 1292.0 L1587.0 1293.0 L1589.0 1294.0 L1591.0 1295.0 L1593.0 1296.0 L1595.0 1296.9 L1597.0 1297.9 L1599.0 1298.8 L1601.0 1299.7 L1603.0 1300.6 L1605.0 1301.4 L1607.0 1302.3 L1609.0 1303.1 L1611.0 1304.0 L1613.0 1304.8 L1615.0 1305.5 L1617.0 1306.3 L1619.0 1307.1 L1621.0 1307.8 L1623.0 1308.5 L1625.0 1309.2 L1627.0 1309.9 L1629.0 1310.6 L1631.0 1311.3 L1633.0 1311.9 L1635.0 1312.6 L1637.0 1313.2 L1639.0 1313.8 L1641.0 1314.4 L1643.0 1315.0 L1645.0 1315.5 L1647.0 1316.1 L1649.0 1316.7 L1651.0 1317.2 L1653.0 1317.7 L1655.0 1318.2 L1657.0 1318.7 L1659.0 1319.2 L1661.0 1319.7 L1663.0 1320.1 L1665.0 1320.6 L1667.0 1321.0 L1669.0 1321.5 L1671.0 1321.9 L1673.0 1322.3 L1675.0 1322.7 L1677.0 1323.1 L1679.0 1323.4 L1681.0 1323.8 L1683.0 1324.2 L1685.0 1324.5 L1687.0 1324.9 L1689.0 1325.2 L1691.0 1325.5 L1693.0 1325.9 L1695.0 1326.2 L1697.0 1326.5 L1699.0 1326.8 L1701.0 1327.1 L1703.0 1327.3 L1705.0 1327.6 L1707.0 1327.9 L1709.0 1328.1 L1711.0 1328.4 L1713.0 1328.6 L1715.0 1328.9 L1717.0 1329.1 L1719.0 1329.4 L1721.0 1329.6 L1723.0 1329.8 L1725.0 1330.0 L1727.0 1330.2 L1729.0 1330.4 L1731.0 1330.6 L1733.0 1330.8 L1735.0 1331.0 L1737.0 1331.2 L1739.0 1331.4 L1741.0 1331.6 L1743.0 1331.8 L1745.0 1332.0 L1747.0 1332.1 L1749.0 1332.3 L1751.0 1332.5 L1753.0 1332.6 L1755.0 1332.8 L1757.0 1333.0 L1759.0 1333.1 L1761.0 1333.3 L1763.0 1333.5 L1765.0 1333.6 L1767.0 1333.8 L1769.0 1333.9 L1771.0 1334.1 L1773.0 1334.3 L1775.0 1334.4 L1777.0 1334.6 L1779.0 1334.7 L1781.0 1334.9 L1783.0 1335.1 L1785.0 1335.2 L1787.0 1335.4 L1789.0 1335.5 L1791.0 1335.7 L1793.0 1335.9 L1795.0 1336.0 L1797.0 1336.2 L1799.0 1336.4 L1801.0 1336.6 L1803.0 1336.8 L1805.0 1336.9 L1807.0 1337.1 L1809.0 1337.3 L1811.0 1337.5 L1813.0 1337.7 L1815.0 1337.9 L1817.0 1338.1 L1819.0 1338.3 L1821.0 1338.6 L1823.0 1338.8 L1825.0 1339.0 L1827.0 1339.2 L1829.0 1339.5 L1831.0 1339.7 L1833.0 1340.0 L1835.0 1340.2 L1837.0 1340.5 L1839.0 1340.8 L1841.0 1341.0 L1843.0 1341.3 L1845.0 1341.6 L1847.0 1341.9 L1849.0 1342.2 L1851.0 1342.5" fill="none" stroke="#ff00ff" stroke-width="4.6" stroke-linejoin="round" stroke-linecap="butt" clip-path="url(#cd)"/>
<path d="M1120.7 1226.1 L1122.7 1220.4 L1124.7 1214.5 L1126.7 1208.7 L1128.7 1202.8 L1130.7 1196.9 L1132.7 1190.9 L1134.7 1184.9 L1136.7 1178.9 L1138.7 1172.8 L1140.7 1166.7 L1142.7 1160.5 L1144.7 1154.3 L1146.7 1148.1 L1148.7 1141.8 L1150.7 1135.5 L1152.7 1129.1 L1154.7 1122.8 L1156.7 1116.3 L1158.7 1109.9 L1160.7 1103.4 L1162.7 1096.9 L1164.7 1090.4 L1166.7 1083.9 L1168.7 1077.5 L1170.7 1071.1 L1172.7 1064.9 L1174.7 1058.7 L1176.7 1052.6 L1178.7 1046.6 L1180.7 1040.9 L1182.7 1035.2 L1184.7 1029.8 L1186.7 1024.6 L1188.7 1019.6 L1190.7 1014.7 L1192.7 1010.1 L1194.7 1005.7 L1196.7 1001.5 L1198.7 997.5 L1200.7 993.6 L1202.7 990.0 L1204.7 986.6 L1206.7 983.4 L1208.7 980.4 L1210.7 977.7 L1212.7 975.1 L1214.7 972.7 L1216.7 970.6 L1218.7 968.6 L1220.7 966.9 L1222.7 965.4 L1224.7 964.0 L1226.7 962.9 L1228.7 962.0 L1230.7 961.4 L1232.7 960.9 L1234.7 960.6 L1236.7 960.6 L1238.7 960.8 L1240.7 961.2 L1242.7 961.8 L1244.7 962.6 L1246.7 963.7 L1248.7 964.9 L1250.7 966.4 L1252.7 968.0 L1254.7 969.8 L1256.7 971.8 L1258.7 974.0 L1260.7 976.3 L1262.7 978.8 L1264.7 981.4 L1266.7 984.1 L1268.7 987.0 L1270.7 989.9 L1272.7 993.0 L1274.7 996.2 L1276.7 999.4 L1278.7 1002.7 L1280.7 1006.1 L1282.7 1009.6 L1284.7 1013.1 L1286.7 1016.7 L1288.7 1020.3 L1290.7 1023.9 L1292.7 1027.5 L1294.7 1031.2 L1296.7 1034.8 L1298.7 1038.4 L1300.7 1042.1 L1302.7 1045.7 L1304.7 1049.3 L1306.7 1052.8 L1308.7 1056.4 L1310.7 1059.9 L1312.7 1063.4 L1314.7 1066.8 L1316.7 1070.2 L1318.7 1073.6 L1320.7 1077.0 L1322.7 1080.3 L1324.7 1083.5 L1326.7 1086.7 L1328.7 1089.9 L1330.7 1093.0 L1332.7 1096.0 L1334.7 1099.0 L1336.7 1102.0 L1338.7 1104.8 L1340.7 1107.6 L1342.7 1110.3 L1344.7 1113.0 L1346.7 1115.6 L1348.7 1118.1 L1350.7 1120.5 L1352.7 1122.9 L1354.7 1125.2 L1356.7 1127.4 L1358.7 1129.6 L1360.7 1131.7 L1362.7 1133.8 L1364.7 1135.8 L1366.7 1137.8 L1368.7 1139.8 L1370.7 1141.7 L1372.7 1143.5 L1374.7 1145.4 L1376.7 1147.2 L1378.7 1149.0 L1380.7 1150.8 L1382.7 1152.6 L1384.7 1154.3 L1386.7 1156.1 L1388.7 1157.8 L1390.7 1159.5 L1392.7 1161.3 L1394.7 1163.0 L1396.7 1164.7 L1398.7 1166.4 L1400.7 1168.1 L1402.7 1169.8 L1404.7 1171.5 L1406.7 1173.2 L1408.7 1174.8 L1410.7 1176.5 L1412.7 1178.2 L1414.7 1179.8 L1416.7 1181.5 L1418.7 1183.1 L1420.7 1184.8 L1422.7 1186.4 L1424.7 1188.0 L1426.7 1189.6 L1428.7 1191.3 L1430.7 1192.9 L1432.7 1194.5 L1434.7 1196.1 L1436.7 1197.7 L1438.7 1199.3 L1440.7 1200.8 L1442.7 1202.4 L1444.7 1204.0 L1446.7 1205.6 L1448.7 1207.1 L1450.7 1208.7 L1452.7 1210.3 L1454.7 1211.8 L1456.7 1213.4 L1458.7 1214.9 L1460.7 1216.4 L1462.7 1218.0 L1464.7 1219.5 L1466.7 1221.0 L1468.7 1222.6 L1470.7 1224.1 L1472.7 1225.6 L1474.7 1227.1 L1476.7 1228.6 L1478.7 1230.1 L1480.7 1231.6 L1482.7 1233.1 L1484.7 1234.6 L1486.7 1236.1 L1488.7 1237.6 L1490.7 1239.1 L1492.7 1240.6 L1494.7 1242.0 L1496.7 1243.5 L1498.7 1245.0 L1500.7 1246.4 L1502.7 1247.9 L1504.7 1249.3 L1506.7 1250.7 L1508.7 1252.2 L1510.7 1253.6 L1512.7 1255.0 L1514.7 1256.4 L1516.7 1257.8 L1518.7 1259.2 L1520.7 1260.5 L1522.7 1261.9 L1524.7 1263.3 L1526.7 1264.6 L1528.7 1266.0 L1530.7 1267.3 L1532.7 1268.6 L1534.7 1269.9 L1536.7 1271.2 L1538.7 1272.5 L1540.7 1273.8 L1542.7 1275.1 L1544.7 1276.3 L1546.7 1277.5 L1548.7 1278.8 L1550.7 1280.0 L1552.7 1281.2 L1554.7 1282.4 L1556.7 1283.6 L1558.7 1284.7 L1560.7 1285.9 L1562.7 1287.0 L1564.7 1288.2 L1566.7 1289.3 L1568.7 1290.4 L1570.7 1291.5 L1572.7 1292.5 L1574.7 1293.6 L1576.7 1294.6 L1578.7 1295.6 L1580.7 1296.6 L1582.7 1297.6 L1584.7 1298.6 L1586.7 1299.6 L1588.7 1300.5 L1590.7 1301.4 L1592.7 1302.3 L1594.7 1303.2 L1596.7 1304.1 L1598.7 1305.0 L1600.7 1305.8 L1602.7 1306.6 L1604.7 1307.4 L1606.7 1308.2 L1608.7 1309.0 L1610.7 1309.7 L1612.7 1310.5 L1614.7 1311.2 L1616.7 1311.9 L1618.7 1312.6 L1620.7 1313.3 L1622.7 1314.0 L1624.7 1314.6 L1626.7 1315.3 L1628.7 1315.9 L1630.7 1316.5 L1632.7 1317.1 L1634.7 1317.7 L1636.7 1318.2 L1638.7 1318.8 L1640.7 1319.3 L1642.7 1319.9 L1644.7 1320.4 L1646.7 1320.9 L1648.7 1321.4 L1650.7 1321.9 L1652.7 1322.3 L1654.7 1322.8 L1656.7 1323.3 L1658.7 1323.7 L1660.7 1324.1 L1662.7 1324.5 L1664.7 1324.9 L1666.7 1325.3 L1668.7 1325.7 L1670.7 1326.1 L1672.7 1326.5 L1674.7 1326.8 L1676.7 1327.2 L1678.7 1327.5 L1680.7 1327.8 L1682.7 1328.2 L1684.7 1328.5 L1686.7 1328.8 L1688.7 1329.1 L1690.7 1329.4 L1692.7 1329.6 L1694.7 1329.9 L1696.7 1330.2 L1698.7 1330.4 L1700.7 1330.7 L1702.7 1330.9 L1704.7 1331.2 L1706.7 1331.4 L1708.7 1331.6 L1710.7 1331.8 L1712.7 1332.0 L1714.7 1332.2 L1716.7 1332.5 L1718.7 1332.6 L1720.7 1332.8 L1722.7 1333.0 L1724.7 1333.2 L1726.7 1333.4 L1728.7 1333.6 L1730.7 1333.7 L1732.7 1333.9 L1734.7 1334.1 L1736.7 1334.2 L1738.7 1334.4 L1740.7 1334.5 L1742.7 1334.7 L1744.7 1334.8 L1746.7 1335.0 L1748.7 1335.1 L1750.7 1335.2 L1752.7 1335.4 L1754.7 1335.5 L1756.7 1335.7 L1758.7 1335.8 L1760.7 1335.9 L1762.7 1336.1 L1764.7 1336.2 L1766.7 1336.3 L1768.7 1336.4 L1770.7 1336.6 L1772.7 1336.7 L1774.7 1336.8 L1776.7 1337.0 L1778.7 1337.1 L1780.7 1337.2 L1782.7 1337.4 L1784.7 1337.5 L1786.7 1337.6 L1788.7 1337.8 L1790.7 1337.9 L1792.7 1338.0 L1794.7 1338.2 L1796.7 1338.3 L1798.7 1338.5 L1800.7 1338.6 L1802.7 1338.8 L1804.7 1339.0 L1806.7 1339.1 L1808.7 1339.3 L1810.7 1339.4 L1812.7 1339.6 L1814.7 1339.8 L1816.7 1340.0 L1818.7 1340.2 L1820.7 1340.4 L1822.7 1340.6 L1824.7 1340.8 L1826.7 1341.0 L1828.7 1341.2 L1830.7 1341.4 L1832.7 1341.6 L1834.7 1341.8 L1836.7 1342.1 L1838.7 1342.3 L1840.7 1342.6 L1842.7 1342.8 L1844.7 1343.1 L1846.7 1343.4 L1848.7 1343.6 L1850.7 1343.9 L1851.0 1344.0" fill="none" stroke="#008000" stroke-width="4.6" stroke-linejoin="round" stroke-linecap="butt" clip-path="url(#cd)"/>
<text transform="translate(55.0 493.5) rotate(-90)" font-family="'Liberation Serif','Times New Roman',serif" font-weight="bold" font-size="53.0">Emission Intensity</text>
<text transform="translate(1003.5 490.5) rotate(-90)" font-family="'Liberation Serif','Times New Roman',serif" font-weight="bold" font-size="52.5">Emission Intensity</text>
<text transform="translate(59.5 1263.0) rotate(-90)" font-family="'Liberation Serif','Times New Roman',serif" font-weight="bold" font-size="51.6">Emission Intensity</text>
<text transform="translate(987.0 1224.5) rotate(-90)" font-family="'Liberation Serif','Times New Roman',serif" font-weight="bold" font-size="52.3">Emission Intensity</text>
<text x="513" y="722" font-family="'Liberation Serif','Times New Roman',serif" font-size="54"><tspan>λ/</tspan><tspan font-weight="bold">nm</tspan></text>
<text x="1456.5" y="723.5" font-family="'Liberation Serif','Times New Roman',serif" font-size="54"><tspan>λ/</tspan><tspan font-weight="bold">nm</tspan></text>
<text x="447" y="1452" font-family="'Liberation Serif','Times New Roman',serif" font-size="52">λ</text>
<text x="488" y="1452" font-family="'Liberation Serif','Times New Roman',serif" font-size="52">/</text>
<text x="515.5" y="1452" font-family="'Liberation Serif','Times New Roman',serif" font-size="54.5" font-weight="bold">nm</text>
<text x="1417" y="1461" font-family="'Liberation Serif','Times New Roman',serif" font-size="52">λ</text>
<text x="1457" y="1461" font-family="'Liberation Serif','Times New Roman',serif" font-size="52">/</text>
<text x="1488" y="1461" font-family="'Liberation Sans',Arial,sans-serif" font-size="55" font-weight="bold">nm</text>
<g font-family="'Liberation Serif','Times New Roman',serif" font-weight="bold" font-size="37">
<line x1="426" y1="54.8" x2="492.5" y2="54.8" stroke="#ff0000" stroke-width="5" stroke-linecap="round"/>
<text x="510" y="64.5" font-size="37.5">Unprocessed As (III)</text>
<path d="M428 100.3H443.5M458 100.3H458.01M471.5 100.3H486.5" stroke="#000" stroke-width="5" stroke-linecap="round"/>
<text x="510" y="110.3" font-size="35.5">Blank</text>
</g>
<g font-family="'Liberation Serif','Times New Roman',serif" font-weight="bold" font-size="36">
<line x1="1244" y1="61.9" x2="1307.4" y2="61.9" stroke="#000" stroke-width="5" stroke-linecap="round"/>
<text x="1316" y="72.5" font-size="37.4">PBN@SiO<tspan dy="18">2</tspan><tspan dy="-18">processed As (III)</tspan></text>
<path d="M1246 128.7H1259.5M1275.6 128.7H1275.61M1290 128.7H1303.5" stroke="#ff0000" stroke-width="5" stroke-linecap="round"/>
<text x="1319" y="139.3">Blank</text>
</g>
<g font-family="'Liberation Serif','Times New Roman',serif" font-weight="bold" font-style="italic" font-size="36.8">
<path d="M550 803.6H562M579.4 803.6H579.41M594 803.6H608" stroke="#000" stroke-width="5" stroke-linecap="round"/>
<text x="621" y="810">Flo</text>
<line x1="548" y1="846.5" x2="612.5" y2="846.5" stroke="#ff0000" stroke-width="5" stroke-linecap="round"/>
<text x="621" y="855.8">Flo+ SN</text>
<line x1="548" y1="893" x2="606" y2="893" stroke="#0000ff" stroke-width="5" stroke-linecap="round" stroke-dasharray="0.01 9.4"/>
<text x="621" y="901.5">Flo+ SN+FeCl<tspan dy="13">3</tspan></text>
</g>
<rect x="1404.5" y="769.5" width="420.5" height="234.8" fill="none" stroke="#8a8a8a" stroke-width="2"/>
<g font-family="'Liberation Serif','Times New Roman',serif" font-weight="bold" font-style="italic" font-size="37.3">
<line x1="1420.5" y1="801.8" x2="1484.5" y2="801.8" stroke="#000000" stroke-width="4.5" stroke-linecap="round"/>
<text x="1493" y="812.5">Ferrocyanide (4mM)</text>
<line x1="1420.5" y1="847.9" x2="1484.5" y2="847.9" stroke="#ff0000" stroke-width="4.5" stroke-linecap="round"/>
<text x="1493" y="858.6">Ferrocyanide (3mM)</text>
<line x1="1420.5" y1="894.1" x2="1484.5" y2="894.1" stroke="#0000ff" stroke-width="4.5" stroke-linecap="round"/>
<text x="1493" y="904.8">Ferrocyanide (2mM)</text>
<line x1="1420.5" y1="940.2" x2="1484.5" y2="940.2" stroke="#ff00ff" stroke-width="4.5" stroke-linecap="round"/>
<text x="1493" y="951.0">Ferrocyanide (1mM)</text>
<line x1="1420.5" y1="986.4" x2="1484.5" y2="986.4" stroke="#008000" stroke-width="4.5" stroke-linecap="round"/>
<text x="1493" y="997.1">Blank</text>
</g>
<rect x="748.3" y="134.6" width="85.7" height="91.8" fill="#fef0ca"/>
<text x="791.5" y="207.0" text-anchor="middle" font-family="'Liberation Serif','Times New Roman',serif" font-weight="bold" font-size="65">A</text>
<rect x="1714.2" y="141.0" width="83.7" height="95.4" fill="#fef0ca"/>
<text x="1755.5" y="213.0" text-anchor="middle" font-family="'Liberation Serif','Times New Roman',serif" font-weight="bold" font-size="65">B</text>
<rect x="748.5" y="1137.2" width="87.1" height="96.4" fill="#fef0ca"/>
<text x="791.5" y="1209.5" text-anchor="middle" font-family="'Liberation Serif','Times New Roman',serif" font-weight="bold" font-size="67">C</text>
<rect x="1714.1" y="1137.2" width="87.1" height="96.4" fill="#fef0ca"/>
<text x="1757.0" y="1209.0" text-anchor="middle" font-family="'Liberation Serif','Times New Roman',serif" font-weight="bold" font-size="65">D</text>
<g font-family="'Liberation Serif','Times New Roman',serif" font-weight="bold" font-size="44" text-anchor="middle">
<text x="274" y="802.5" fill="#ff0000">2</text>
<text x="274" y="936.5" fill="#000">1</text>
<text x="273.5" y="1244.5" fill="#1f4e79" font-size="47">3</text>
</g>
</svg>
</body></html>
